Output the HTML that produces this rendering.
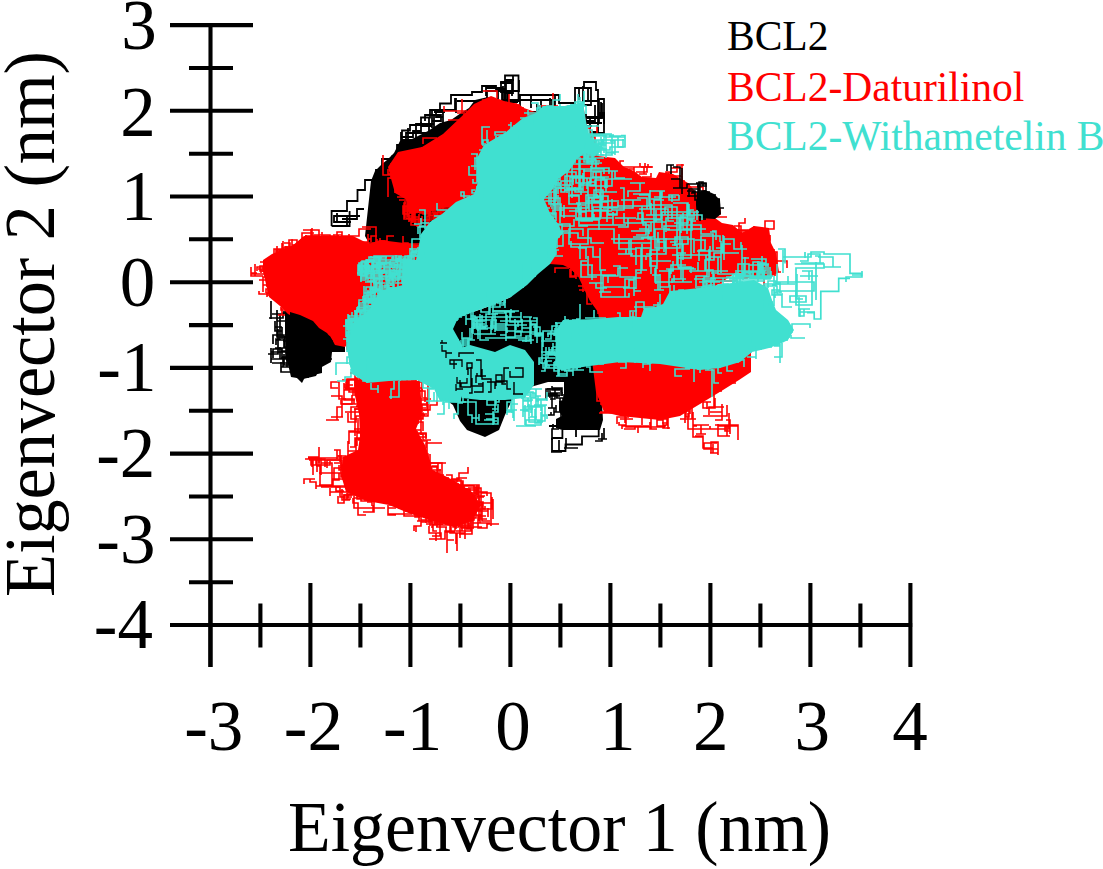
<!DOCTYPE html>
<html><head><meta charset="utf-8"><style>html,body{margin:0;padding:0;background:#fff;overflow:hidden}svg{display:block}</style></head>
<body><svg width="1103" height="869" viewBox="0 0 1103 869">
<path d="M541,115 L541,100 L535,100 L552,100 L552,114 L539,114 L556,114 M436,109 L436,117 L443,117 L443,124 L443,112 L434,112 L445,112 M513,92 L501,92 L501,82 L512,82 L512,96 L512,83 L500,83 M395,156 L400,156 L400,147 L408,147 L408,140 L408,128 M488,102 L498,102 L498,108 L498,95 L498,89 L505,89 L505,105 M486,96 L486,88 L502,88 L502,105 L502,90 L496,90 L502,90 M432,128 L432,121 L441,121 L441,115 L425,115 L425,121 L425,115 M592,132 L598,132 L598,125 L598,118 L591,118 L602,118 L602,103 M601,107 L601,118 L595,118 L587,118 L601,118 L601,102 L601,114 M397,153 L397,146 L397,157 L397,147 L397,158 L397,145 L410,145 M602,123 L591,123 L581,123 L595,123 L595,105 L595,121 L582,121 M497,108 L489,108 L503,108 L510,108 L500,108 L500,101 L484,101 M340,216 L334,216 L334,222 L351,222 L337,222 L337,213 L337,220 M513,84 L513,76 L513,93 L507,93 L507,108 L507,102 L518,102 M555,105 L555,95 L555,113 L547,113 L537,113 L554,113 L554,101 M583,86 L583,101 L591,101 L598,101 L582,101 L588,101 L588,89 M421,122 L421,131 L413,131 L413,137 L401,137 L401,149 L401,132 M491,91 L508,91 L508,106 L498,106 L498,112 L504,112 L516,112 M421,126 L432,126 L432,110 L449,110 L456,110 L456,98 L456,113 M477,101 L469,101 L457,101 L464,101 L480,101 L472,101 L488,101 M549,109 L537,109 L537,104 L537,112 L524,112 L513,112 L498,112 M604,115 L599,115 L599,103 L599,98 L599,112 L599,124 L599,111 M598,115 L598,106 L598,98 L598,113 L598,126 L598,111 L598,100 M401,150 L401,140 L416,140 L416,124 L434,124 L434,131 L434,114 M364,209 L357,209 L357,219 L342,219 L347,219 L347,225 L347,216 M579,91 L579,100 L579,88 L591,88 L591,97 L591,105 L580,105 M455,98 L455,110 L442,110 L433,110 L440,110 L434,110 L446,110 M519,111 L507,111 L522,111 L516,111 L507,111 L507,106 L515,106 M519,80 L519,91 L512,91 L498,91 L487,91 L487,101 L487,108 M429,118 L429,133 L412,133 L406,133 L406,149 L406,139 L406,150 M338,216 L351,216 L340,216 L357,216 L345,216 L360,216 L353,216 M599,113 L604,113 L604,124 L604,117 L586,117 L586,132 L586,114 M585,116 L585,126 L592,126 L575,126 L575,116 L569,116 L576,116 M514,80 L506,80 L506,86 L506,94 L506,89 L506,81 L512,81 M545,100 L528,100 L534,100 L519,100 L503,100 L503,86 L503,100" fill="none" stroke="#000" stroke-width="1.8"/>
<path d="M331.6,226 L331.6,211 L347,211 L347,201 L357.5,201 L357.5,190 L365,190 L365,180 L376,180 L376,170 L382,170 L382,159 L392.5,159 L392.5,156 L400.5,156 L400.5,144 L402,144 L402,130.5 L410,130.5 L410,125 L421,125 L421,117.5 L430,117.5 L430,110 L440,110 L440,103.5 L451,103.5 L451,95 L472,95 L472,92 L482,92 L482,86 L496,86 L496,90 L505,90 M331.6,226 L349.6,226 L349.6,211 M505,102 L505,75.5 L518.5,75.5 L518.5,102 M520,107 L520,95 L559,95 L559,103 L575,103 L575,88 L584,88 L584,82 L596,82 L596,90 L598,90 L598,99 L604,99 L604,133 L590,133 L590,118 L598,118 M531,96 L531,108 M550,98 L550,108" fill="none" stroke="#000" stroke-width="1.8"/>
<path d="M365,236 L371,181 L375,171 L382,164 L387,160 L394,153 L400,141 L412,139 L428,131 L440,123 L451,120 L461,113 L469,108 L475,100 L488,97 L500,105 L480,150 L465,200 L460,235 L420,245 L370,245Z" fill="#000"/>
<path d="M271,306 L271,311 L271,301 L271,309 L271,301 L271,308 L271,319 M300,372 L292,372 L287,372 L281,372 L281,362 L281,372 L281,368 M326,358 L326,349 L319,349 L319,341 L319,350 L319,339 L319,333 M324,345 L324,338 L313,338 L302,338 L302,348 L302,342 L302,336 M283,341 L293,341 L293,351 L281,351 L285,351 L290,351 L281,351 M277,321 L284,321 L288,321 L288,326 L292,326 L295,326 L301,326 M325,342 L331,342 L341,342 L337,342 L340,342 L340,339 L333,339 M284,354 L284,365 L291,365 L283,365 L283,358 L283,362 L283,367 M314,334 L323,334 L314,334 L314,337 L309,337 L309,328 L321,328 M285,336 L285,340 L276,340 L276,345 L276,339 L280,339 L280,332 M275,359 L271,359 L276,359 L272,359 L280,359 L280,352 L280,347 M324,335 L313,335 L313,329 L321,329 L321,338 L321,344 L321,340 M290,369 L300,369 L307,369 L307,362 L310,362 L316,362 L321,362 M296,358 L286,358 L286,347 L286,351 L295,351 L295,360 L286,360 M268,354 L278,354 L278,348 L278,344 L278,349 L278,340 L278,329 M285,340 L285,348 L293,348 L297,348 L285,348 L275,348 L285,348 M292,313 L292,317 L292,313 L283,313 L283,318 L276,318 L269,318 M314,372 L307,372 L314,372 L314,367 L314,358 L314,352 L314,361 M332,359 L325,359 L325,347 L331,347 L331,338 L334,338 L324,338 M315,374 L310,374 L303,374 L300,374 L300,367 L293,367 L281,367 M327,328 L327,335 L327,332 L327,337 L327,332 L324,332 L324,326 M303,323 L309,323 L309,326 L309,318 L298,318 L298,325 L291,325 M309,375 L314,375 L314,367 L322,367 L315,367 L305,367 L311,367 M285,337 L277,337 L289,337 L298,337 L298,326 L292,326 L298,326 M295,340 L295,347 L284,347 L284,335 L273,335 L273,339 L273,344 M277,310 L277,320 L277,313 L277,319 L277,329 L277,337 L283,337 M304,373 L298,373 L298,369 L302,369 L296,369 L296,366 L296,371 M289,352 L283,352 L272,352 L284,352 L278,352 L271,352 L271,356 M281,358 L287,358 L287,367 L298,367 L287,367 L287,360 L287,364 M308,369 L308,378 L308,373 L315,373 L315,366 L315,374 L315,362 M299,343 L310,343 L310,331 L306,331 L302,331 L302,338 L307,338 M332,338 L336,338 L339,338 L339,347 L335,347 L335,344 L340,344 M303,365 L294,365 L294,374 L294,363 L286,363 L277,363 L272,363 M282,327 L275,327 L275,321 L275,331 L282,331 L282,339 L282,327 M284,357 L287,357 L282,357 L282,349 L273,349 L273,358 L273,350 M284,311 L284,314 L272,314 L284,314 L280,314 L280,323 L280,334 M287,359 L280,359 L271,359 L271,348 L271,354 L271,363 L271,356 M296,351 L296,346 L287,346 L287,357 L287,361 L292,361 L292,365 M309,365 L309,375 L316,375 L311,375 L303,375 L303,366 L303,355 M318,340 L314,340 L314,351 L309,351 L309,359 L309,351 L300,351" fill="none" stroke="#000" stroke-width="1.7"/>
<path d="M285,310 L300,314 L315,320 L327,328 L332,338 L345,345 L345,352 L332,352 L331,362 L320,368 L316,376 L303,379 L291,377 L287,360 L285,335Z" fill="#000"/>
<path d="M446,330 L452,318 L476,311 L490,306 L511,297 L520,280 L540,265 L555,250 L580,260 L600,300 L620,320 L610,340 L600,370 L603,420 L600,430 L562,430 L556,428 L556,419 L562,416 L559,411 L559,401 L564,400 L564,382 L548,382 L520,390 L512,400 L505,415 L499,430 L485,437 L467,430 L460,421 L453,405 L446,400Z" fill="#000"/>
<path d="M562,452 L556,452 L561,452 L551,452 L559,452 L559,445 L559,440 M602,433 L602,441 L595,441 L601,441 L595,441 L601,441 L595,441 M553,424 L553,429 L559,429 L552,429 L552,436 L552,440 L552,434 M607,439 L600,439 L606,439 L598,439 L604,439 L604,434 L604,428 M566,438 L566,448 L572,448 L564,448 L570,448 L578,448 L566,448" fill="none" stroke="#000" stroke-width="1.7"/>
<path d="M552,438 L552,451 L565.5,451 L565.5,444.5 L582,444.5 L582,436.3 L598.7,436.3 L598.7,430 M552,438 L562.4,438 L562.4,430 M576,430 L576,437 M549,426 L556,426" fill="none" stroke="#000" stroke-width="1.8"/>
<path d="M554,399 L550,399 L555,399 L555,390 L560,390 L552,390 L552,386 M550,389 L558,389 L550,389 L550,398 L550,393 L554,393 L563,393 M546,400 L546,396 L556,396 L560,396 L551,396 L546,396 L550,396 M563,405 L563,398 L557,398 L557,394 L553,394 L556,394 L548,394 M560,408 L560,398 L556,398 L564,398 L564,394 L564,397 L564,401 M561,417 L561,412 L554,412 L560,412 L556,412 L556,405 L556,409 M551,412 L551,415 L548,415 L554,415 L554,410 L554,415 L554,408 M548,388 L548,396 L554,396 L546,396 L546,389 L546,397 L546,392 M563,395 L559,395 L563,395 L554,395 L550,395 L550,388 L550,395 M556,405 L556,408 L548,408 L552,408 L552,402 L552,393 L560,393 M546,394 L546,389 L553,389 L560,389 L556,389 L561,389 L561,392 M562,388 L562,396 L562,388 L552,388 L556,388 L560,388 L554,388" fill="none" stroke="#000" stroke-width="1.6"/>
<path d="M286,285 L286,294 L286,287 L293,287 L293,282 L289,282 L289,275 M332,271 L327,271 L318,271 L318,263 L322,263 L327,263 L336,263 M290,290 L290,282 L290,276 L290,266 L281,266 L284,266 L284,261 M395,275 L395,281 L395,274 L395,267 L395,275 L387,275 L395,275 M336,259 L342,259 L342,255 L348,255 L345,255 L345,247 L348,247 M342,235 L342,242 L342,249 L347,249 L351,249 L361,249 L361,244 M290,300 L290,305 L281,305 L281,299 L281,291 L288,291 L288,297 M358,255 L358,261 L358,268 L358,271 L358,261 L358,264 L355,264 M344,278 L344,285 L344,293 L351,293 L361,293 L361,297 L356,297 M305,291 L305,300 L313,300 L323,300 L318,300 L310,300 L310,305 M278,275 L282,275 L282,285 L276,285 L272,285 L263,285 L263,280 M368,234 L368,243 L377,243 L377,250 L377,245 L377,251 L377,246 M335,235 L341,235 L338,235 L338,242 L329,242 L329,246 L326,246 M276,261 L283,261 L283,258 L288,258 L288,268 L288,259 L293,259 M280,284 L284,284 L284,293 L275,293 L281,293 L281,290 L281,295 M343,283 L349,283 L358,283 L355,283 L358,283 L367,283 L374,283 M323,247 L328,247 L328,240 L328,245 L328,251 L321,251 L321,242 M335,235 L342,235 L342,232 L342,238 L342,232 L337,232 L337,240 M261,273 L261,269 L271,269 L271,279 L271,283 L281,283 L281,275 M360,287 L369,287 L375,287 L367,287 L374,287 L374,283 L379,283 M267,279 L267,286 L270,286 L266,286 L276,286 L283,286 L274,286 M286,249 L280,249 L274,249 L274,259 L274,267 L274,260 L274,269 M296,258 L296,254 L296,259 L296,251 L290,251 L290,243 L284,243 M334,279 L343,279 L343,271 L349,271 L340,271 L350,271 L350,276 M278,257 L271,257 L280,257 L280,261 L285,261 L285,257 L289,257 M255,276 L255,270 L255,264 L255,268 L255,272 L255,268 L255,272 M391,268 L391,276 L391,280 L383,280 L379,280 L379,276 L370,276 M347,296 L347,289 L341,289 L341,297 L345,297 L337,297 L337,291 M290,269 L287,269 L287,274 L287,283 L287,277 L292,277 L296,277 M339,299 L343,299 L336,299 L336,290 L329,290 L320,290 L313,290 M276,249 L276,255 L276,258 L276,249 L276,256 L276,265 L276,262 M279,294 L287,294 L281,294 L281,290 L278,290 L278,286 L278,296 M384,245 L391,245 L394,245 L387,245 L387,238 L387,243 L387,251 M302,312 L311,312 L311,304 L305,304 L314,304 L314,300 L306,300 M309,278 L316,278 L316,274 L316,269 L316,263 L316,257 L316,248 M358,268 L358,274 L358,281 L348,281 L343,281 L343,285 L343,278 M338,281 L342,281 L336,281 L333,281 L339,281 L339,287 L344,287 M286,270 L282,270 L287,270 L294,270 L294,275 L294,266 L294,272 M334,234 L334,241 L334,246 L342,246 L349,246 L353,246 L356,246 M325,279 L317,279 L317,283 L317,278 L317,269 L323,269 L323,265 M267,270 L267,277 L267,273 L267,264 L267,273 L267,282 L267,277 M367,279 L367,288 L367,278 L371,278 L380,278 L388,278 L393,278 M340,311 L344,311 L344,302 L349,302 L349,306 L344,306 L337,306 M395,253 L395,246 L395,255 L389,255 L392,255 L399,255 L399,259 M320,253 L327,253 L327,259 L327,251 L327,260 L327,251 L323,251 M346,265 L340,265 L349,265 L349,271 L356,271 L351,271 L356,271 M315,239 L310,239 L302,239 L302,233 L307,233 L311,233 L314,233 M273,281 L280,281 L284,281 L279,281 L279,278 L279,270 L279,274 M317,322 L317,318 L311,318 L311,313 L311,307 L305,307 L305,312 M319,320 L319,328 L322,328 L326,328 L326,323 L323,323 L323,314 M372,276 L372,281 L372,275 L372,280 L378,280 L369,280 L359,280 M312,306 L312,313 L312,316 L315,316 L324,316 L324,310 L324,304 M345,260 L353,260 L359,260 L359,266 L359,275 L359,270 L352,270 M323,254 L323,244 L323,247 L329,247 L329,255 L329,259 L335,259 M327,321 L327,317 L327,321 L327,311 L327,306 L327,310 L337,310 M298,270 L298,273 L298,268 L304,268 L296,268 L304,268 L311,268 M322,258 L326,258 L326,248 L322,248 L314,248 L314,240 L318,240 M276,250 L283,250 L276,250 L281,250 L277,250 L277,254 L277,264 M251,268 L251,274 L251,267 L251,273 L257,273 L253,273 L257,273 M268,271 L268,278 L268,282 L268,277 L263,277 L263,284 L263,292 M302,300 L302,305 L302,310 L309,310 L301,310 L296,310 L296,305 M368,249 L368,239 L371,239 L371,242 L371,236 L377,236 L374,236 M324,243 L324,235 L324,238 L324,245 L324,239 L331,239 L326,239 M281,275 L278,275 L278,282 L278,291 L272,291 L279,291 L279,286 M271,262 L267,262 L260,262 L266,262 L266,268 L266,259 L266,265 M354,239 L354,242 L359,242 L368,242 L368,250 L359,250 L351,250 M394,236 L387,236 L391,236 L387,236 L387,241 L380,241 L380,248 M303,308 L297,308 L297,299 L291,299 L287,299 L297,299 L306,299 M325,315 L325,319 L330,319 L324,319 L329,319 L329,325 L324,325 M302,236 L302,244 L297,244 L297,240 L292,240 L292,247 L284,247 M330,291 L330,284 L330,290 L334,290 L334,284 L329,284 L329,276 M398,266 L398,258 L398,267 L391,267 L396,267 L387,267 L387,260 M306,235 L306,244 L299,244 L299,251 L299,258 L299,249 L299,258 M313,287 L313,293 L313,300 L308,300 L301,300 L301,292 L301,299 M298,303 L291,303 L291,299 L291,292 L291,296 L298,296 L294,296 M350,243 L359,243 L359,249 L365,249 L365,254 L365,258 L371,258 M315,257 L310,257 L302,257 L292,257 L292,265 L296,265 L288,265 M284,277 L289,277 L285,277 L285,272 L279,272 L279,264 L279,254 M314,261 L314,268 L314,264 L318,264 L322,264 L315,264 L306,264 M359,268 L366,268 L366,272 L361,272 L367,272 L367,276 L367,284 M341,247 L337,247 L346,247 L342,247 L349,247 L349,239 L349,234 M292,301 L289,301 L289,308 L289,298 L289,305 L289,299 L294,299 M284,273 L290,273 L297,273 L292,273 L298,273 L298,278 L298,271 M290,307 L290,299 L283,299 L283,292 L287,292 L287,285 L292,285 M272,283 L272,293 L267,293 L267,297 L267,294 L259,294 L259,291 M322,232 L322,240 L322,249 L322,244 L322,253 L322,260 L328,260 M347,242 L342,242 L334,242 L327,242 L337,242 L337,249 L343,249 M304,281 L310,281 L310,288 L310,282 L310,289 L315,289 L315,281 M289,278 L289,282 L297,282 L297,272 L297,264 L297,271 L287,271 M257,271 L257,267 L265,267 L265,262 L265,268 L271,268 L271,262 M359,258 L355,258 L347,258 L354,258 L361,258 L361,252 L361,245 M334,292 L334,286 L325,286 L318,286 L328,286 L322,286 L326,286 M386,275 L382,275 L382,269 L382,262 L387,262 L394,262 L394,267 M292,240 L292,245 L297,245 L297,253 L290,253 L290,250 L290,259 M286,246 L286,255 L295,255 L295,259 L290,259 L281,259 L287,259 M288,284 L288,279 L288,288 L282,288 L277,288 L281,288 L281,280 M286,306 L289,306 L284,306 L288,306 L294,306 L300,306 L300,296 M367,268 L367,263 L358,263 L358,257 L358,265 L358,271 L358,264 M296,254 L304,254 L300,254 L300,259 L300,266 L291,266 L301,266 M258,269 L265,269 L265,264 L269,264 L277,264 L268,264 L268,268 M300,311 L308,311 L312,311 L307,311 L307,303 L307,311 L316,311 M355,296 L360,296 L360,292 L360,298 L360,290 L353,290 L353,299 M292,254 L285,254 L285,260 L285,255 L285,260 L285,268 L280,268 M359,290 L359,280 L359,271 L366,271 L373,271 L373,277 L381,277 M319,297 L319,304 L319,297 L319,289 L310,289 L310,293 L319,293 M367,271 L363,271 L363,279 L363,282 L353,282 L347,282 L352,282 M316,280 L325,280 L325,288 L318,288 L318,283 L318,278 L322,278 M277,278 L277,282 L277,289 L271,289 L274,289 L266,289 L266,293 M293,256 L293,263 L287,263 L287,260 L287,251 L297,251 L297,257 M311,235 L320,235 L330,235 L330,239 L330,248 L340,248 L340,258 M307,300 L307,307 L301,307 L306,307 L300,307 L296,307 L296,297 M364,284 L364,275 L356,275 L356,266 L356,258 L356,254 L356,246 M336,314 L336,306 L336,302 L336,309 L336,317 L328,317 L328,309 M282,303 L292,303 L299,303 L307,303 L307,294 L317,294 L317,299 M304,305 L299,305 L290,305 L290,297 L290,292 L286,292 L286,288 M335,280 L342,280 L342,271 L342,266 L342,271 L342,262 L342,252 M366,243 L375,243 L375,248 L368,248 L368,257 L378,257 L382,257 M344,296 L348,296 L341,296 L345,296 L345,293 L354,293 L348,293 M277,249 L277,253 L277,246 L277,252 L286,252 L279,252 L279,261 M346,247 L352,247 L343,247 L334,247 L334,255 L334,245 L334,249 M287,277 L293,277 L288,277 L288,281 L288,272 L288,269 L288,265 M285,273 L281,273 L281,270 L276,270 L276,276 L276,271 L285,271 M304,288 L314,288 L314,291 L309,291 L318,291 L318,284 L318,276 M308,256 L299,256 L299,260 L304,260 L304,267 L304,263 L304,267 M338,280 L344,280 L351,280 L351,288 L346,288 L346,282 L346,291 M372,245 L377,245 L377,239 L377,249 L377,240 L377,244 L377,253 M342,257 L342,252 L336,252 L336,248 L343,248 L343,244 L343,239 M361,289 L361,297 L353,297 L359,297 L359,290 L359,281 L359,273 M394,272 L399,272 L391,272 L399,272 L399,279 L399,276 L391,276 M287,275 L290,275 L295,275 L300,275 L300,280 L306,280 L311,280 M321,317 L315,317 L315,321 L315,318 L324,318 L319,318 L315,318 M368,284 L364,284 L364,293 L360,293 L354,293 L359,293 L365,293 M399,268 L399,273 L399,266 L391,266 L391,273 L391,268 L391,263 M305,242 L312,242 L307,242 L304,242 L313,242 L313,245 L308,245 M385,249 L385,241 L380,241 L380,248 L372,248 L372,254 L381,254 M269,288 L278,288 L284,288 L284,297 L284,301 L284,292 L293,292 M268,274 L260,274 L251,274 L251,269 L251,276 L257,276 L263,276 M326,258 L326,262 L326,265 L330,265 L323,265 L329,265 L329,259 M353,283 L353,278 L353,286 L353,293 L357,293 L350,293 L350,286 M347,295 L355,295 L355,289 L355,293 L355,301 L355,296 L358,296" fill="none" stroke="#ff0000" stroke-width="1.6"/>
<path d="M263,260 L272,254 L292,246 L304,236 L353,236 L369,244 L380,240 L420,245 L420,270 L400,290 L380,310 L360,330 L345,347 L335,345 L330,336 L314,330 L304,322 L288,314 L280,306 L269,297 L266,284 L263,272Z" fill="#ff0000"/>
<path d="M416,244 L420,244 L412,244 L408,244 L400,244 M268,291 L268,295 L268,290 L268,296 L268,290 M292,316 L292,310 L292,316 L300,316 L300,322 M348,236 L355,236 L349,236 L342,236 L342,242 M282,308 L282,315 L285,315 L278,315 L283,315 M362,328 L355,328 L359,328 L353,328 L348,328 M279,251 L288,251 L295,251 L286,251 L283,251 M265,280 L270,280 L264,280 L259,280 L266,280 M365,242 L365,245 L365,253 L365,258 L365,261 M385,241 L380,241 L380,238 L380,241 L380,244 M420,261 L415,261 L415,252 L409,252 L409,260 M376,314 L381,314 L381,319 L376,319 L380,319 M310,236 L319,236 L319,230 L310,230 L303,230 M347,344 L347,349 L350,349 L350,358 L354,358 M296,318 L300,318 L300,315 L308,315 L299,315 M400,290 L400,281 L400,273 L400,280 L395,280 M310,327 L310,333 L319,333 L319,340 L315,340 M365,325 L365,321 L365,318 L360,318 L354,318 M299,319 L299,325 L299,318 L296,318 L296,313 M334,236 L334,240 L330,240 L335,240 L328,240 M408,243 L408,248 L408,243 L403,243 L403,236 M413,277 L420,277 L426,277 L426,285 L418,285 M302,238 L311,238 L311,229 L311,238 L314,238 M263,272 L263,266 L260,266 L260,271 L266,271 M362,328 L367,328 L370,328 L374,328 L374,325 M300,240 L304,240 L304,249 L304,243 L304,237 M378,312 L372,312 L377,312 L377,303 L386,303 M420,257 L420,264 L412,264 L418,264 L418,267 M338,236 L338,242 L338,236 L338,244 L338,235 M325,236 L331,236 L335,236 L335,244 L339,244 M415,275 L410,275 L410,280 L410,273 L417,273 M290,247 L285,247 L289,247 L289,240 L293,240 M384,306 L384,313 L384,305 L384,314 L391,314 M399,291 L402,291 L402,282 L393,282 L385,282 M311,236 L305,236 L312,236 L312,228 L312,232 M281,307 L281,310 L290,310 L290,304 L290,298 M278,252 L283,252 L283,246 L283,241 L283,250 M330,236 L325,236 L334,236 L334,240 L334,243 M302,321 L302,313 L302,320 L309,320 L317,320 M351,236 L359,236 L359,229 L365,229 L371,229 M420,261 L420,269 L420,277 L412,277 L412,281 M385,305 L381,305 L374,305 L374,314 L366,314 M420,266 L425,266 L425,275 L425,268 L425,262 M405,285 L412,285 L412,291 L403,291 L400,291 M402,288 L399,288 L399,281 L391,281 L396,281 M409,281 L416,281 L416,277 L412,277 L408,277 M285,249 L285,253 L294,253 L287,253 L293,253 M302,321 L298,321 L293,321 L293,327 L298,327 M376,242 L376,236 L376,227 L368,227 L362,227 M281,250 L276,250 L281,250 L277,250 L277,258 M420,254 L416,254 L416,260 L416,252 L420,252 M303,321 L311,321 L311,328 L315,328 L307,328 M364,326 L367,326 L358,326 L358,333 L350,333 M416,274 L421,274 L413,274 L413,279 L408,279 M410,280 L403,280 L403,273 L411,273 L411,277 M351,236 L346,236 L346,242 L340,242 L335,242 M367,323 L367,317 L367,314 L371,314 L378,314 M404,243 L404,251 L397,251 L405,251 L408,251 M288,248 L282,248 L282,243 L282,250 L290,250 M312,236 L312,245 L309,245 L309,248 L309,253" fill="none" stroke="#ff0000" stroke-width="1.6"/>
<path d="M290,312 L300,315 L313,321 L319,328 L327,333 L333,341 L334,351 L327,355 L322,362 L322,373 L305,377 L302,383 L291,372 L289,355 L290,341Z" fill="#000"/>
<path d="M344,395 L344,387 L348,387 L348,379 L348,390 L353,390 L353,396 M331,396 L342,396 L342,407 L337,407 L337,416 L337,420 L332,420 M394,393 L394,396 L394,405 L394,416 L387,416 L387,423 L382,423 M312,459 L312,467 L312,457 L308,457 L319,457 L313,457 L309,457 M354,497 L354,500 L354,506 L354,494 L360,494 L348,494 L348,498 M364,379 L372,379 L372,390 L372,403 L379,403 L372,403 L368,403 M421,474 L415,474 L419,474 L419,485 L419,475 L411,475 L404,475 M397,416 L397,411 L397,400 L397,395 L403,395 L395,395 L388,395 M349,435 L349,444 L349,431 L357,431 L364,431 L358,431 L358,420 M429,521 L419,521 L419,508 L431,508 L431,521 L428,521 L417,521 M476,499 L476,490 L465,490 L453,490 L462,490 L462,494 L462,482 M404,382 L414,382 L422,382 L422,391 L419,391 L425,391 L425,402 M313,473 L313,468 L313,475 L313,463 L313,459 L325,459 L325,467 M398,437 L408,437 L417,437 L425,437 L418,437 L418,444 L405,444 M425,497 L425,505 L425,494 L425,506 L425,497 L425,490 L425,501 M370,494 L363,494 L353,494 L347,494 L347,499 L351,499 L345,499 M372,408 L381,408 L392,408 L397,408 L397,398 L408,398 L413,398 M432,528 L432,516 L420,516 L414,516 L404,516 L404,504 L404,496 M386,481 L386,486 L386,476 L386,483 L386,474 L378,474 L378,461 M421,432 L421,427 L421,415 L425,415 L421,415 L409,415 L402,415 M416,487 L416,490 L411,490 L416,490 L416,494 L416,498 L416,507 M426,408 L416,408 L404,408 L413,408 L423,408 L415,408 L410,408 M357,467 L357,462 L357,470 L357,482 L357,487 L364,487 L370,487 M319,485 L324,485 L332,485 L320,485 L320,472 L320,466 L316,466 M358,491 L358,482 L369,482 L363,482 L363,493 L363,484 L363,495 M361,395 L370,395 L370,382 L370,394 L360,394 L360,386 L357,386 M420,401 L420,405 L424,405 L415,405 L427,405 L422,405 L410,405 M451,521 L451,533 L451,530 L451,522 L462,522 L462,531 L462,525 M340,462 L340,450 L340,456 L340,450 L334,450 L337,450 L337,459 M436,491 L436,495 L427,495 L415,495 L415,505 L415,494 L415,497 M414,413 L419,413 L423,413 L423,419 L411,419 L421,419 L409,419 M450,511 L440,511 L440,514 L440,523 L440,536 L435,536 L432,536 M487,496 L487,492 L476,492 L476,499 L476,488 L481,488 L481,493 M345,479 L333,479 L333,486 L345,486 L332,486 L319,486 L316,486 M493,519 L493,514 L493,505 L493,512 L493,502 L493,499 L493,505 M405,409 L396,409 L406,409 L413,409 L402,409 L393,409 L388,409 M354,454 L354,462 L354,467 L354,479 L354,485 L354,498 L362,498 M336,460 L340,460 L327,460 L318,460 L309,460 L317,460 L317,472 M458,484 L452,484 L458,484 L458,489 L470,489 L470,501 L473,501 M385,391 L385,380 L391,380 L380,380 L370,380 L383,380 L395,380 M404,388 L404,398 L396,398 L406,398 L410,398 L398,398 L398,406 M417,480 L426,480 L431,480 L431,488 L431,477 L431,490 L423,490 M407,421 L407,416 L407,403 L416,403 L410,403 L410,391 L404,391 M361,430 L361,440 L361,431 L361,438 L355,438 L355,447 L350,447 M431,475 L419,475 L419,488 L419,481 L419,469 L419,463 L425,463 M380,446 L373,446 L382,446 L382,452 L382,464 L379,464 L379,468 M374,415 L374,427 L374,418 L381,418 L388,418 L377,418 L383,418 M321,458 L321,469 L321,463 L321,475 L321,463 L332,463 L332,475 M499,524 L487,524 L487,528 L478,528 L478,523 L478,516 L486,516 M491,526 L491,515 L491,503 L491,508 L491,515 L491,523 L491,512 M488,508 L488,517 L488,511 L476,511 L465,511 L465,498 L465,502 M366,433 L366,444 L360,444 L370,444 L377,444 L372,444 L380,444 M399,435 L399,444 L389,444 L389,454 L398,454 L398,458 L398,470 M453,504 L464,504 L464,494 L464,486 L469,486 L474,486 L474,498 M347,478 L347,485 L347,497 L352,497 L340,497 L340,487 L330,487 M423,410 L427,410 L427,400 L416,400 L412,400 L412,409 L412,417 M352,395 L352,404 L342,404 L342,417 L331,417 L343,417 L333,417 M392,471 L383,471 L383,480 L383,469 L383,462 L394,462 L394,456 M348,455 L348,445 L348,441 L348,451 L357,451 L362,451 L352,451 M395,383 L386,383 L378,383 L378,389 L368,389 L378,389 L389,389 M410,509 L418,509 L418,515 L422,515 L432,515 L432,508 L432,513 M386,447 L393,447 L389,447 L389,434 L379,434 L379,426 L379,437 M326,487 L322,487 L334,487 L321,487 L328,487 L332,487 L332,474 M363,473 L363,468 L375,468 L375,474 L375,468 L368,468 L368,477 M344,395 L344,383 L344,390 L357,390 L357,379 L347,379 L347,390 M477,497 L484,497 L478,497 L478,491 L478,495 L478,488 L478,492 M482,527 L473,527 L473,522 L473,510 L473,520 L473,527 L468,527 M316,465 L312,465 L316,465 L316,459 L312,459 L320,459 L310,459 M401,396 L401,386 L401,381 L401,388 L390,388 L390,396 L378,396 M386,489 L378,489 L378,494 L369,494 L369,499 L357,499 L357,487 M466,529 L472,529 L472,534 L463,534 L471,534 L459,534 L464,534 M361,425 L361,421 L369,421 L369,430 L369,434 L377,434 L377,424 M460,525 L460,529 L460,538 L460,527 L468,527 L468,519 L468,513 M421,464 L427,464 L427,459 L427,447 L427,441 L418,441 L418,437 M475,496 L485,496 L478,496 L483,496 L474,496 L464,496 L459,496 M464,531 L471,531 L471,519 L471,506 L467,506 L467,498 L467,488 M362,402 L362,410 L362,415 L362,412 L353,412 L345,412 L354,412 M367,494 L367,486 L377,486 L377,491 L364,491 L369,491 L364,491 M330,461 L330,465 L317,465 L311,465 L311,459 L317,459 L305,459 M378,401 L372,401 L377,401 L377,408 L377,413 L377,423 L377,432 M447,545 L447,553 L447,546 L447,536 L447,548 L447,540 L454,540 M448,522 L459,522 L456,522 L456,514 L456,526 L456,521 L456,529 M474,519 L474,515 L474,520 L464,520 L468,520 L468,510 L464,510 M383,494 L378,494 L378,501 L371,501 L361,501 L361,498 L361,489 M438,489 L438,481 L426,481 L426,487 L426,478 L430,478 L442,478 M366,515 L358,515 L358,503 L358,507 L358,503 L353,503 L353,498 M468,510 L475,510 L479,510 L479,521 L479,509 L479,504 L467,504 M437,515 L437,527 L437,519 L437,510 L437,499 L433,499 L433,494 M416,496 L416,499 L416,487 L416,495 L405,495 L405,487 L392,487 M460,531 L456,531 L465,531 L465,537 L465,528 L465,536 L465,523 M358,429 L363,429 L354,429 L364,429 L364,433 L357,433 L357,446 M396,458 L388,458 L388,467 L377,467 L366,467 L366,471 L363,471 M442,489 L434,489 L434,478 L422,478 L422,484 L432,484 L432,472 M465,514 L473,514 L473,525 L468,525 L455,525 L463,525 L469,525 M379,450 L386,450 L398,450 L387,450 L375,450 L375,442 L375,430 M391,457 L391,449 L385,449 L385,459 L385,454 L381,454 L381,467 M361,409 L361,418 L361,430 L361,439 L370,439 L380,439 L371,439 M385,508 L376,508 L369,508 L375,508 L366,508 L354,508 L354,504 M417,414 L427,414 L421,414 L421,423 L421,434 L426,434 L426,438 M441,539 L441,533 L436,533 L436,541 L436,533 L429,533 L429,526 M409,438 L401,438 L396,438 L390,438 L401,438 L412,438 L404,438 M360,463 L352,463 L352,472 L352,481 L359,481 L350,481 L350,487 M491,503 L482,503 L473,503 L482,503 L482,513 L482,521 L490,521 M365,451 L365,439 L355,439 L365,439 L356,439 L356,452 L356,449 M411,431 L411,427 L401,427 L390,427 L393,427 L399,427 L389,427 M344,385 L348,385 L353,385 L344,385 L344,388 L344,400 L355,400 M391,480 L402,480 L402,477 L402,485 L392,485 L392,490 L392,496 M405,444 L405,440 L405,449 L405,441 L405,432 L405,440 L405,447 M341,477 L341,469 L341,477 L352,477 L346,477 L346,481 L350,481 M377,484 L372,484 L366,484 L361,484 L369,484 L362,484 L362,493 M362,480 L362,472 L372,472 L361,472 L361,476 L361,470 L366,470 M398,451 L398,443 L401,443 L401,433 L401,442 L401,452 L411,452 M358,440 L361,440 L373,440 L373,449 L360,449 L360,454 L364,454 M398,454 L401,454 L405,454 L396,454 L396,448 L403,448 L408,448 M430,463 L439,463 L429,463 L442,463 L442,471 L442,477 L437,477 M406,491 L406,488 L396,488 L401,488 L411,488 L399,488 L393,488 M441,512 L450,512 L450,525 L442,525 L433,525 L433,531 L437,531 M319,473 L325,473 L334,473 L345,473 L345,464 L353,464 L353,454 M319,447 L319,451 L319,463 L319,458 L312,458 L308,458 L312,458 M410,455 L410,467 L401,467 L401,460 L401,453 L401,446 L404,446 M350,479 L358,479 L358,470 L358,459 L358,468 L358,456 L358,461 M349,462 L349,458 L359,458 L362,458 L353,458 L353,470 L342,470 M430,517 L430,509 L430,504 L430,507 L434,507 L434,510 L434,516 M473,521 L469,521 L473,521 L473,517 L473,512 L473,521 L462,521 M362,499 L374,499 L374,509 L374,512 L363,512 L373,512 L373,505 M428,384 L428,396 L428,404 L428,416 L417,416 L417,404 L409,404 M371,487 L371,495 L380,495 L376,495 L376,501 L370,501 L374,501 M448,512 L435,512 L435,524 L443,524 L433,524 L426,524 L431,524 M416,486 L428,486 L428,475 L420,475 L432,475 L428,475 L428,465 M477,495 L477,485 L469,485 L460,485 L460,492 L470,492 L466,492 M378,434 L378,437 L378,441 L385,441 L385,454 L372,454 L361,454 M415,421 L415,418 L423,418 L411,418 L415,418 L420,418 L409,418 M392,437 L400,437 L400,430 L400,421 L400,411 L408,411 L408,423 M393,432 L390,432 L385,432 L372,432 L372,440 L372,449 L362,449 M337,456 L341,456 L341,468 L334,468 L334,480 L339,480 L339,473 M450,522 L450,533 L457,533 L457,542 L457,551 L457,540 L457,536 M424,491 L420,491 L420,497 L420,510 L420,499 L420,494 L420,482 M480,522 L480,514 L480,523 L471,523 L481,523 L490,523 L482,523 M412,401 L402,401 L402,389 L412,389 L416,389 L416,380 L406,380 M357,477 L349,477 L356,477 L356,465 L356,473 L356,470 L347,470 M334,420 L330,420 L338,420 L326,420 L339,420 L334,420 L330,420 M406,451 L406,445 L412,445 L412,435 L412,430 L421,430 L421,435 M492,497 L492,509 L483,509 L483,502 L479,502 L479,490 L467,490 M412,496 L425,496 L430,496 L430,489 L442,489 L442,478 L430,478 M393,400 L383,400 L386,400 L398,400 L398,393 L398,381 L398,387 M355,427 L355,436 L355,431 L355,421 L355,409 L363,409 L370,409 M352,495 L344,495 L344,500 L350,500 L347,500 L342,500 L342,489 M447,527 L436,527 L446,527 L446,532 L455,532 L447,532 L447,542 M411,379 L419,379 L419,386 L419,398 L427,398 L419,398 L412,398 M446,475 L452,475 L452,481 L458,481 L463,481 L463,490 L454,490 M373,466 L373,479 L373,483 L368,483 L358,483 L358,487 L351,487 M410,387 L398,387 L398,391 L406,391 L400,391 L400,402 L396,402 M423,499 L423,508 L417,508 L404,508 L399,508 L399,498 L399,493 M316,489 L316,482 L310,482 L310,479 L315,479 L304,479 L304,484 M349,432 L358,432 L351,432 L363,432 L369,432 L369,437 L369,430 M470,515 L477,515 L482,515 L469,515 L469,521 L469,510 L481,510 M416,512 L429,512 L429,522 L441,522 L441,519 L430,519 L430,526 M354,459 L354,464 L359,464 L355,464 L355,469 L364,469 L364,475 M429,539 L437,539 L445,539 L445,531 L455,531 L455,519 L455,527 M420,459 L423,459 L423,455 L428,455 L423,455 L423,451 L427,451 M389,391 L398,391 L398,380 L402,380 L396,380 L407,380 L398,380 M456,544 L456,533 L464,533 L459,533 L465,533 L465,528 L465,539 M460,521 L457,521 L462,521 L450,521 L450,510 L460,510 L447,510 M338,388 L331,388 L331,382 L339,382 L339,392 L339,399 L346,399 M349,390 L349,380 L349,392 L360,392 L360,386 L360,378 L355,378 M455,523 L466,523 L473,523 L469,523 L469,528 L461,528 L474,528 M471,505 L481,505 L481,493 L491,493 L491,496 L491,507 L491,512 M475,485 L471,485 L479,485 L479,492 L479,487 L474,487 L479,487 M356,393 L356,389 L346,389 L346,380 L358,380 L353,380 L342,380 M450,487 L450,493 L438,493 L448,493 L461,493 L461,497 L461,493" fill="none" stroke="#ff0000" stroke-width="1.6"/>
<path d="M354,379 L420,381 L422,414 L416,429 L425,445 L433,470 L455,481 L472,492 L481,505 L472,521 L455,527 L433,521 L411,514 L389,505 L367,501 L346,492 L341,475 L343,457 L358,450 L360,436 L359,414 L355,396Z" fill="#ff0000"/>
<path d="M359,416 L356,416 L356,422 L348,422 L348,413 M357,404 L353,404 L346,404 L341,404 L341,400 M360,432 L366,432 L366,439 L366,431 L366,428 M395,380 L389,380 L389,375 L397,375 L400,375 M420,517 L415,517 L415,513 L420,513 L424,513 M475,496 L475,488 L475,491 L475,488 L468,488 M449,525 L449,521 L453,521 L453,514 L459,514 M419,381 L419,387 L413,387 L413,392 L417,392 M422,410 L430,410 L430,405 L437,405 L437,400 M481,505 L481,510 L481,515 L481,519 L487,519 M418,424 L418,416 L418,422 L423,422 L423,431 M479,509 L473,509 L480,509 L485,509 L485,506 M366,379 L371,379 L375,379 L375,376 L380,376 M397,380 L397,386 L401,386 L401,379 L401,384 M364,500 L371,500 L368,500 L376,500 L367,500 M474,495 L467,495 L458,495 L458,501 L458,507 M458,526 L466,526 L471,526 L466,526 L458,526 M353,495 L344,495 L344,503 L338,503 L338,496 M449,478 L442,478 L442,484 L437,484 L437,492 M383,380 L389,380 L389,387 L385,387 L385,381 M341,476 L346,476 L346,470 L339,470 L339,465 M421,517 L421,520 L421,526 L416,526 L416,532 M389,505 L395,505 L395,497 L386,497 L379,497 M406,512 L406,503 L406,495 L406,488 L406,491 M355,393 L361,393 L361,402 L361,409 L354,409 M451,479 L459,479 L459,473 L468,473 L468,467 M345,487 L336,487 L336,491 L344,491 L338,491 M454,480 L446,480 L446,485 L446,491 L446,496 M429,520 L433,520 L430,520 L423,520 L430,520 M388,505 L388,514 L397,514 L405,514 L412,514 M432,466 L438,466 L438,472 L438,463 L446,463 M396,380 L387,380 L394,380 L390,380 L384,380 M474,518 L469,518 L476,518 L476,510 L476,502 M361,498 L365,498 L370,498 L370,495 L370,492 M421,517 L421,522 L429,522 L424,522 L428,522 M480,506 L472,506 L479,506 L479,498 L471,498 M396,508 L388,508 L388,515 L396,515 L392,515 M421,405 L421,400 L414,400 L414,391 L421,391 M421,403 L416,403 L416,397 L410,397 L405,397 M433,470 L441,470 L438,470 L438,477 L444,477 M343,460 L347,460 L347,465 L341,465 L341,470 M422,412 L422,404 L427,404 L427,399 L431,399 M411,381 L414,381 L414,388 L422,388 L422,397 M403,380 L398,380 L392,380 L392,373 L385,373 M373,380 L373,373 L365,373 L365,381 L373,381 M426,448 L426,443 L434,443 L439,443 L442,443 M429,520 L421,520 L421,526 L414,526 L414,531 M343,458 L334,458 L325,458 L319,458 L319,465 M437,472 L437,467 L430,467 L437,467 L437,474 M454,480 L457,480 L453,480 L461,480 L461,488 M428,454 L428,458 L428,463 L428,454 L420,454 M430,462 L430,454 L430,463 L438,463 L431,463 M342,479 L350,479 L350,472 L354,472 L361,472 M440,523 L440,515 L433,515 L426,515 L426,523 M422,440 L418,440 L418,433 L426,433 L426,439 M407,381 L407,377 L407,371 L403,371 L394,371 M341,476 L349,476 L358,476 L358,480 L354,480 M365,500 L372,500 L372,506 L372,502 L367,502 M346,456 L338,456 L346,456 L343,456 L346,456 M417,431 L417,434 L423,434 L423,440 L431,440 M442,523 L437,523 L434,523 L438,523 L447,523 M359,419 L351,419 L351,413 L351,407 L359,407 M420,517 L417,517 L417,509 L423,509 L418,509 M357,406 L362,406 L356,406 L360,406 L360,414 M421,398 L421,405 L421,410 L415,410 L418,410 M355,391 L355,396 L355,389 L349,389 L345,389 M382,380 L382,373 L388,373 L394,373 L399,373 M473,493 L479,493 L476,493 L470,493 L470,490 M366,379 L366,388 L361,388 L353,388 L345,388 M342,463 L342,470 L342,466 L342,463 L334,463 M375,502 L375,498 L367,498 L361,498 L367,498 M355,392 L355,388 L355,380 L355,377 L355,372 M342,465 L342,460 L334,460 L327,460 L327,468 M357,404 L354,404 L354,399 L350,399 L343,399 M445,524 L453,524 L453,527 L459,527 L454,527 M354,385 L359,385 L359,392 L363,392 L363,396 M346,492 L337,492 L330,492 L330,496 L330,488 M444,475 L440,475 L440,469 L440,475 L433,475 M355,392 L355,385 L355,378 L355,373 L350,373 M457,482 L457,478 L464,478 L467,478 L464,478" fill="none" stroke="#ff0000" stroke-width="1.6"/>
<path d="M388,167 L398,152 L422,147 L443,134 L461,117 L474,104 L491,96 L504,101 L518,104 L524,108 L535,112 L545,106 L565,106 L583,104 L588,134 L594,142 L598,156 L615,158 L624,167 L634,171 L642,177 L656,178 L659,172 L673,174 L688,183 L693,189 L700,195 L715,218 L722,223 L733,225 L742,233 L754,226 L769,228 L771,243 L776,253 L779,272 L771,277 L752,277 L737,272 L722,282 L700,296 L665,310 L640,320 L620,322 L600,324 L598,312 L590,301 L585,291 L578,276 L571,269 L563,265 L550,264 L540,250 L480,240 L460,215 L453,205 L430,212 L409,214 L407,200 L395,193 L390,175Z" fill="#ff0000"/>
<path d="M598,314 L598,306 L598,300 L598,292 L593,292 M501,244 L501,249 L501,256 L509,256 L517,256 M546,106 L553,106 L553,101 L553,93 L553,99 M388,169 L388,174 L393,174 L399,174 L403,174 M558,106 L550,106 L541,106 L537,106 L541,106 M633,321 L636,321 L642,321 L642,318 L642,326 M463,115 L471,115 L475,115 L482,115 L482,109 M576,274 L576,279 L576,273 L576,268 L571,268 M517,104 L511,104 L507,104 L507,109 L500,109 M599,320 L595,320 L595,329 L586,329 L586,326 M592,304 L587,304 L587,297 L587,290 L579,290 M569,268 L565,268 L558,268 L555,268 L555,273 M740,231 L732,231 L732,235 L732,229 L736,229 M477,236 L477,245 L477,253 L477,248 L482,248 M391,179 L391,174 L391,168 L391,164 L395,164 M482,100 L491,100 L491,107 L497,107 L497,116 M779,272 L774,272 L781,272 L775,272 L775,276 M407,202 L407,197 L402,197 L397,197 L405,197 M585,290 L589,290 L593,290 L593,281 L593,277 M742,233 L734,233 L734,242 L739,242 L732,242 M628,169 L619,169 L614,169 L614,165 L614,174 M408,208 L408,202 L408,196 L408,200 L399,200 M458,120 L452,120 L461,120 L455,120 L448,120 M574,272 L574,264 L574,270 L571,270 L571,263 M498,243 L491,243 L491,250 L491,241 L495,241 M523,107 L523,116 L517,116 L509,116 L509,112 M649,177 L642,177 L647,177 L651,177 L651,173 M629,169 L634,169 L629,169 L629,176 L629,185 M754,277 L746,277 L746,269 L739,269 L747,269 M685,181 L676,181 L668,181 L668,173 L672,173 M459,213 L459,222 L459,216 L459,208 L459,213 M432,211 L432,206 L423,206 L423,214 L431,214 M639,174 L647,174 L644,174 L644,167 L653,167 M458,212 L465,212 L465,220 L460,220 L466,220 M447,131 L447,135 L447,142 L447,150 L447,157 M467,111 L460,111 L451,111 L444,111 L444,106 M639,320 L645,320 L645,311 L645,319 L640,319 M542,252 L542,256 L542,248 L542,252 L546,252 M522,247 L515,247 L522,247 L528,247 L521,247 M390,175 L383,175 L383,171 L383,163 L383,155 M481,240 L481,247 L472,247 L472,239 L479,239 M597,151 L597,155 L589,155 L589,147 L584,147 M583,287 L583,292 L583,283 L583,286 L578,286 M432,211 L432,205 L432,199 L432,207 L423,207 M465,113 L457,113 L462,113 L462,105 L462,99 M774,250 L770,250 L775,250 L771,250 L762,250 M520,105 L515,105 L512,105 L520,105 L512,105 M509,102 L509,94 L509,100 L509,107 L512,107 M770,235 L770,240 L764,240 L756,240 L765,240 M634,321 L634,326 L634,330 L634,338 L634,329 M395,193 L395,188 L400,188 L403,188 L403,191 M497,98 L497,91 L490,91 L483,91 L487,91 M777,261 L774,261 L780,261 L787,261 L787,268 M389,170 L393,170 L396,170 L402,170 L410,170 M570,269 L570,277 L575,277 L575,268 L582,268 M764,277 L764,274 L764,279 L764,286 L760,286 M587,129 L581,129 L577,129 L577,134 L577,137 M672,307 L672,300 L672,294 L672,301 L672,292 M595,146 L595,137 L590,137 L590,143 L585,143 M659,312 L654,312 L660,312 L660,317 L660,312 M655,314 L649,314 L649,310 L649,314 L649,306 M702,199 L702,193 L702,196 L702,202 L702,205 M544,256 L541,256 L541,251 L545,251 L545,256 M709,209 L705,209 L713,209 L720,209 L720,215 M765,228 L765,221 L774,221 L774,229 L768,229 M510,245 L510,252 L510,245 L510,253 L517,253 M590,136 L590,128 L586,128 L586,133 L586,139 M549,106 L555,106 L546,106 L546,114 L546,110 M724,281 L728,281 L737,281 L737,285 L729,285 M734,226 L741,226 L741,235 L738,235 L738,229 M471,229 L471,225 L471,217 L471,212 L478,212 M589,135 L597,135 L597,128 L597,132 L597,125 M688,183 L688,192 L688,197 L693,197 L697,197 M437,138 L428,138 L431,138 L423,138 L423,144 M748,230 L739,230 L739,223 L745,223 L745,218 M636,172 L642,172 L647,172 L647,167 L641,167 M746,231 L739,231 L747,231 L754,231 L754,226 M571,269 L571,276 L579,276 L584,276 L589,276 M418,148 L418,155 L422,155 L422,147 L422,156 M391,178 L388,178 L388,185 L388,190 L388,197" fill="none" stroke="#ff0000" stroke-width="1.6"/>
<path d="M718,263 L729,263 L720,263 L716,263 L716,252 L716,244 L713,244 M650,198 L650,194 L654,194 L654,190 L666,190 L671,190 L659,190 M642,182 L642,194 L637,194 L625,194 L625,188 L625,195 L620,195 M669,274 L677,274 L677,278 L677,288 L677,279 L670,279 L666,279 M739,278 L747,278 L747,272 L754,272 L745,272 L741,272 L730,272 M673,233 L673,229 L673,240 L680,240 L685,240 L685,251 L685,256 M747,247 L747,259 L738,259 L750,259 L750,256 L750,266 L750,257 M721,272 L721,283 L709,283 L700,283 L700,279 L700,273 L711,273 M663,222 L651,222 L651,210 L651,217 L651,224 L647,224 L638,224 M697,206 L704,206 L704,210 L704,219 L714,219 L714,227 L714,238 M658,297 L665,297 L665,291 L654,291 L654,279 L654,287 L649,287 M674,279 L674,288 L674,283 L674,277 L674,286 L679,286 L679,277 M644,266 L635,266 L647,266 L643,266 L639,266 L646,266 L646,272 M716,242 L707,242 L707,245 L707,233 L707,222 L707,234 L707,238 M705,206 L705,218 L698,218 L698,225 L690,225 L690,213 L682,213 M673,285 L679,285 L679,293 L673,293 L673,286 L666,286 L666,274 M677,294 L669,294 L669,291 L669,295 L673,295 L673,290 L683,290 M703,197 L703,187 L696,187 L687,187 L687,193 L687,185 L690,185 M635,198 L635,207 L642,207 L642,216 L639,216 L639,224 L650,224 M710,259 L710,248 L710,241 L699,241 L699,231 L705,231 L714,231 M686,199 L686,188 L682,188 L682,176 L675,176 L679,176 L674,176 M628,167 L634,167 L638,167 L643,167 L652,167 L640,167 L640,163 M716,217 L712,217 L709,217 L718,217 L724,217 L721,217 L727,217 M714,228 L714,239 L705,239 L697,239 L697,250 L692,250 L687,250 M739,231 L729,231 L729,238 L729,233 L738,233 L746,233 L750,233 M635,242 L628,242 L628,235 L628,239 L636,239 L636,236 L624,236 M686,271 L690,271 L690,261 L681,261 L681,255 L675,255 L675,265 M677,261 L677,270 L677,258 L677,266 L667,266 L667,262 L670,262 M648,164 L648,167 L639,167 L645,167 L645,163 L645,167 L635,167 M624,161 L620,161 L620,167 L617,167 L625,167 L634,167 L634,176 M645,209 L655,209 L655,205 L650,205 L639,205 L639,195 L639,198 M682,164 L682,175 L682,171 L682,168 L673,168 L676,168 L671,168 M699,215 L695,215 L695,225 L703,225 L695,225 L686,225 L686,217 M695,239 L695,231 L685,231 L685,240 L677,240 L671,240 L681,240 M658,215 L654,215 L661,215 L671,215 L666,215 L666,206 L675,206 M662,292 L654,292 L654,288 L664,288 L664,283 L664,275 L664,279 M642,195 L642,201 L650,201 L653,201 L665,201 L665,208 L665,220 M686,209 L686,215 L678,215 L668,215 L673,215 L664,215 L657,215 M771,271 L777,271 L777,260 L777,252 L770,252 L762,252 L762,244 M684,165 L677,165 L677,172 L672,172 L666,172 L666,182 L660,182" fill="none" stroke="#ff0000" stroke-width="1.6"/>
<path d="M685,403 L690,403 L690,393 L687,393 L687,387 L675,387 L675,390 M729,420 L729,413 L729,420 L729,429 L722,429 L710,429 L710,426 M597,375 L597,383 L597,376 L606,376 L606,387 L606,382 L613,382 M723,425 L727,425 L727,436 L723,436 L730,436 L718,436 L718,424 M665,427 L656,427 L645,427 L636,427 L626,427 L626,417 L626,424 M647,393 L652,393 L652,385 L652,374 L642,374 L642,382 L642,378 M672,406 L672,402 L672,410 L672,401 L672,397 L672,387 L679,387 M606,396 L602,396 L602,385 L602,381 L602,371 L602,382 L602,375 M620,385 L629,385 L629,382 L641,382 L641,371 L632,371 L635,371 M738,436 L738,440 L738,436 L738,425 L726,425 L722,425 L715,425 M730,434 L730,427 L725,427 L725,431 L730,431 L730,420 L726,420 M662,371 L668,371 L668,378 L659,378 L659,385 L659,393 L659,400 M695,396 L695,403 L695,392 L695,388 L695,398 L695,387 L683,387 M726,364 L726,373 L736,373 L736,379 L731,379 L731,383 L736,383 M711,453 L711,442 L718,442 L718,453 L710,453 L713,453 L713,447 M695,436 L703,436 L703,448 L713,448 L713,452 L713,444 L713,448 M669,405 L669,393 L663,393 L663,383 L663,395 L663,389 L670,389 M625,423 L625,411 L625,419 L633,419 L627,419 L624,419 L620,419 M672,378 L672,367 L672,378 L661,378 L653,378 L653,374 L658,374 M662,423 L668,423 L668,415 L668,418 L656,418 L656,409 L664,409 M714,372 L714,364 L714,370 L705,370 L709,370 L712,370 L712,364 M738,432 L738,438 L738,426 L735,426 L729,426 L724,426 L718,426 M680,419 L684,419 L687,419 L696,419 L692,419 L692,415 L692,405 M624,402 L632,402 L641,402 L641,395 L638,395 L638,388 L638,397 M618,386 L625,386 L619,386 L619,390 L627,390 L627,399 L627,409 M685,423 L685,412 L676,412 L684,412 L676,412 L672,412 L672,408 M600,412 L607,412 L607,401 L604,401 L597,401 L597,397 L597,389 M622,429 L622,425 L622,429 L622,426 L628,426 L639,426 L643,426 M663,425 L667,425 L667,419 L657,419 L657,411 L648,411 L639,411 M726,383 L726,374 L726,364 L714,364 L703,364 L699,364 L688,364 M666,426 L661,426 L657,426 L657,420 L663,420 L663,428 L670,428 M640,378 L651,378 L651,371 L655,371 L644,371 L654,371 L666,371 M636,408 L643,408 L653,408 L653,398 L653,387 L653,375 L653,366 M642,425 L642,421 L642,414 L642,407 L642,399 L650,399 L650,408 M722,391 L717,391 L709,391 L717,391 L721,391 L721,379 L721,383 M626,378 L626,381 L623,381 L614,381 L614,371 L621,371 L621,376 M697,426 L693,426 L693,416 L693,422 L693,412 L693,420 L693,427 M707,409 L707,402 L711,402 L703,402 L703,408 L715,408 L715,398 M621,408 L621,404 L611,404 L600,404 L607,404 L615,404 L615,411 M704,386 L699,386 L699,375 L690,375 L683,375 L678,375 L678,382 M706,434 L696,434 L706,434 L701,434 L701,425 L709,425 L699,425 M703,448 L703,437 L693,437 L693,432 L693,425 L700,425 L705,425 M613,368 L608,368 L608,378 L608,388 L608,398 L599,398 L609,398 M666,373 L670,373 L663,373 L663,366 L659,366 L659,376 L666,376 M710,412 L719,412 L722,412 L722,404 L722,414 L722,420 L715,420 M648,369 L648,378 L648,387 L659,387 L659,381 L659,374 L659,378 M727,405 L727,412 L727,416 L718,416 L715,416 L707,416 L703,416 M714,392 L714,396 L714,407 L724,407 L717,407 L709,407 L709,415 M668,429 L668,423 L668,412 L668,417 L668,406 L662,406 L662,415 M612,373 L623,373 L623,368 L613,368 L621,368 L621,377 L621,385 M708,374 L708,377 L708,372 L716,372 L716,364 L727,364 L727,372 M619,422 L619,425 L626,425 L626,417 L629,417 L617,417 L617,424 M688,419 L688,413 L688,421 L688,429 L699,429 L709,429 L713,429 M638,433 L638,426 L649,426 L644,426 L635,426 L635,429 L624,429 M718,455 L718,449 L711,449 L704,449 L704,443 L711,443 L717,443 M608,413 L612,413 L608,413 L599,413 L603,413 L610,413 L610,410 M680,407 L686,407 L686,417 L689,417 L689,411 L685,411 L685,407 M652,392 L652,403 L664,403 L664,407 L664,410 L669,410 L669,418 M690,414 L690,403 L690,394 L690,383 L701,383 L695,383 L689,383 M650,422 L650,429 L657,429 L651,429 L651,417 L656,417 L652,417" fill="none" stroke="#ff0000" stroke-width="1.6"/>
<path d="M592,360 L680,358 L751,352 L751,372 L739,380 L723,390 L700,404 L680,416 L660,420 L640,418 L620,416 L604,412 L596,392Z" fill="#ff0000"/>
<path d="M406,218 L415,218 L415,226 L415,219 L421,219 L421,226 L416,226 M440,206 L449,206 L454,206 L443,206 L454,206 L454,211 L454,203 M412,211 L404,211 L404,219 L409,219 L415,219 L419,219 L419,214 M429,217 L429,209 L435,209 L435,204 L427,204 L427,213 L438,213 M424,226 L431,226 L427,226 L427,216 L434,216 L440,216 L452,216 M435,206 L435,218 L439,218 L429,218 L435,218 L435,223 L426,223 M455,206 L455,210 L447,210 L440,210 L440,204 L440,212 L446,212 M456,211 L456,216 L450,216 L450,208 L450,204 L456,204 L456,212 M425,210 L430,210 L425,210 L413,210 L413,222 L422,222 L422,216 M428,224 L439,224 L434,224 L434,213 L430,213 L430,205 L436,205 M441,216 L449,216 L439,216 L450,216 L450,209 L450,216 L450,220 M448,218 L440,218 L440,214 L452,214 L452,208 L452,202 L456,202 M441,217 L441,209 L450,209 L440,209 L440,204 L440,212 L440,219 M432,225 L437,225 L437,220 L433,220 L442,220 L442,213 L442,220 M408,214 L408,203 L408,208 L408,215 L408,210 L414,210 L414,215 M412,220 L420,220 L409,220 L416,220 L424,220 L434,220 L430,220 M433,213 L433,207 L438,207 L448,207 L442,207 L447,207 L456,207 M407,212 L407,217 L407,205 L416,205 L424,205 L424,209 L432,209 M412,213 L412,221 L412,217 L419,217 L419,225 L411,225 L411,220 M457,213 L457,207 L447,207 L442,207 L448,207 L454,207 L447,207 M407,204 L407,208 L407,216 L415,216 L415,207 L415,219 L415,209 M445,212 L437,212 L437,224 L429,224 L429,215 L437,215 L437,221 M419,213 L431,213 L437,213 L429,213 L429,205 L436,205 L425,205 M405,201 L405,208 L405,213 L405,218 L405,209 L409,209 L409,200 M446,203 L453,203 L442,203 L447,203 L455,203 L446,203 L456,203 M408,206 L412,206 L412,211 L412,223 L412,216 L412,207 L404,207 M447,212 L443,212 L443,205 L438,205 L438,212 L438,216 L438,220 M432,220 L428,220 L439,220 L439,225 L429,225 L429,218 L429,209 M420,203 L410,203 L404,203 L404,212 L404,207 L411,207 L411,212 M420,206 L414,206 L403,206 L403,214 L409,214 L409,222 L409,217" fill="none" stroke="#ff0000" stroke-width="1.6"/>
<path d="M712,212 L712,204 L715,204 L715,194 L715,199 L720,199 L712,199 M687,196 L691,196 L700,196 L700,206 L700,215 L700,221 L700,216 M704,193 L698,193 L698,189 L698,184 L707,184 L699,184 L699,190 M682,194 L682,185 L682,178 L682,185 L682,179 L682,173 L682,168 M703,220 L703,212 L703,217 L703,207 L703,214 L703,204 L700,204 M707,186 L697,186 L703,186 L703,182 L699,182 L699,192 L692,192 M667,171 L667,165 L674,165 L667,165 L671,165 L671,174 L671,168 M689,197 L689,189 L698,189 L698,199 L698,205 L702,205 L702,210 M702,196 L710,196 L710,202 L720,202 L712,202 L712,211 L704,211 M691,193 L695,193 L695,200 L699,200 L695,200 L695,191 L687,191 M705,208 L698,208 L707,208 L707,204 L707,213 L707,210 L699,210 M702,211 L702,216 L705,216 L705,208 L713,208 L721,208 L724,208 M675,188 L683,188 L687,188 L687,184 L695,184 L692,184 L700,184 M704,207 L704,212 L700,212 L705,212 L705,220 L705,211 L713,211 M680,167 L673,167 L680,167 L680,172 L680,178 L680,183 L680,187 M673,188 L680,188 L680,179 L680,188 L680,179 L671,179 L679,179 M720,200 L714,200 L707,200 L697,200 L697,209 L706,209 L712,209 M701,183 L706,183 L706,187 L706,191 L700,191 L700,183 L696,183 M704,192 L710,192 L704,192 L704,201 L704,206 L704,212 L711,212 M713,197 L713,201 L718,201 L711,201 L707,201 L712,201 L712,209" fill="none" stroke="#000" stroke-width="1.6"/>
<path d="M697,192 L705,190 L714,194 L720,200 L721,214 L715,219 L700,218 L696,205Z" fill="#000"/>
<path d="M801,263 L806,263 L813,263 L824,263 L820,263 L820,256 L815,256 M810,328 L810,324 L806,324 L800,324 L792,324 L792,332 L787,332 M824,267 L832,267 L841,267 L833,267 L833,257 L823,257 L818,257 M799,297 L799,307 L799,316 L804,316 L804,311 L804,316 L804,309 M846,282 L846,277 L858,277 L862,277 L862,271 L862,275 L852,275 M783,273 L783,262 L783,257 L783,250 L783,261 L783,250 L783,260 M806,271 L811,271 L802,271 L810,271 L804,271 L809,271 L809,280 M800,261 L808,261 L808,254 L820,254 L820,263 L824,263 L816,263 M777,269 L777,264 L777,276 L777,284 L788,284 L788,276 L788,281 M780,282 L780,290 L772,290 L772,295 L782,295 L782,307 L792,307 M795,284 L788,284 L780,284 L780,293 L780,283 L774,283 L774,276 M797,274 L797,282 L797,294 L797,299 L803,299 L796,299 L796,290 M815,312 L807,312 L800,312 L800,317 L800,309 L810,309 L798,309 M774,306 L774,296 L774,287 L774,292 L782,292 L775,292 L775,298" fill="none" stroke="#40e0d0" stroke-width="1.6"/>
<path d="M778,249 L785,249 L785,263.6 M783,257 L811,257 L811,252 L824,252 L824,254 L850,254 L850,273.4 L861.6,273.4 L861.6,276 M850,278.3 L838.7,278.3 L838.7,291.4 L820.8,291.4 L820.8,319 L814.2,319 L814.2,312.6 L807,312.6 M794.6,264 L824,264 L824,268 L796,268 L796,305 L812,305 L812,270 M775,282 L814,282 L814,291 L778,291 M790,296 L806,296 L806,302 L790,302 Z M805,252 L805,258 M816,262 L816,300 M800,276 L818,276" fill="none" stroke="#40e0d0" stroke-width="1.7"/>
<path d="M649,234 L649,225 L643,225 L643,213 L638,213 L638,219 L649,219 M636,218 L625,218 L630,218 L615,218 L628,218 L628,227 L618,227 M692,225 L701,225 L701,234 L713,234 L713,247 L713,251 L722,251 M765,277 L772,277 L759,277 L759,264 L765,264 L769,264 L757,264 M588,226 L579,226 L579,221 L579,205 L586,205 L586,221 L593,221 M636,278 L641,278 L634,278 L634,282 L634,296 L634,291 L641,291 M630,243 L614,243 L614,229 L600,229 L588,229 L588,244 L575,244 M581,244 L569,244 L569,229 L578,229 L583,229 L583,236 L583,229 M734,239 L734,249 L740,249 L747,249 L734,249 L741,249 L741,242 M556,192 L551,192 L551,204 L561,204 L561,216 L565,216 L575,216 M671,261 L657,261 L657,269 L657,254 L657,239 L671,239 L682,239 M633,237 L638,237 L654,237 L654,224 L654,209 L654,200 L664,200 M663,197 L673,197 L658,197 L668,197 L676,197 L664,197 L654,197 M601,211 L601,217 L601,203 L586,203 L586,196 L586,203 L576,203 M738,277 L753,277 L762,277 L762,268 L762,256 L762,267 L762,279 M675,246 L675,237 L688,237 L688,244 L674,244 L683,244 L683,260 M608,202 L599,202 L594,202 L594,196 L594,190 L603,190 L603,200 M711,273 L718,273 L718,257 L718,267 L718,274 L726,274 L730,274 M624,213 L624,223 L631,223 L640,223 L646,223 L646,235 L636,235 M664,252 L664,237 L664,226 L677,226 L677,216 L677,230 L667,230 M617,207 L609,207 L593,207 L593,218 L584,218 L594,218 L594,214 M637,270 L647,270 L642,270 L642,261 L642,254 L642,244 L642,253 M733,285 L733,275 L739,275 L754,275 L742,275 L746,275 L739,275 M627,243 L637,243 L651,243 L651,256 L651,252 L651,238 L641,238 M595,182 L588,182 L588,197 L588,208 L581,208 L566,208 L551,208 M575,163 L575,158 L580,158 L580,173 L580,178 L580,188 L566,188 M720,242 L720,236 L715,236 L701,236 L701,251 L712,251 L697,251 M651,265 L651,274 L651,264 L651,257 L651,261 L665,261 L656,261 M628,206 L617,206 L627,206 L635,206 L649,206 L649,195 L639,195 M771,271 L771,278 L757,278 L757,272 L748,272 L743,272 L743,280 M556,191 L556,199 L556,188 L565,188 L565,176 L578,176 L583,176 M570,186 L570,177 L583,177 L583,173 L583,180 L583,191 L583,175 M692,271 L703,271 L712,271 L703,271 L689,271 L698,271 L698,262 M666,240 L666,250 L666,238 L666,250 L666,254 L655,254 L646,254 M617,210 L617,215 L608,215 L608,208 L603,208 L618,208 L618,202 M581,204 L569,204 L569,193 L569,185 L562,185 L572,185 L572,198 M689,204 L689,215 L677,215 L671,215 L661,215 L646,215 L658,215 M596,192 L611,192 L600,192 L600,202 L600,209 L600,219 L586,219 M731,244 L722,244 L722,253 L714,253 L714,260 L705,260 L705,271 M651,199 L660,199 L660,191 L665,191 L650,191 L662,191 L662,198 M578,204 L578,212 L586,212 L586,201 L586,210 L586,219 L577,219 M602,204 L602,208 L602,197 L589,197 L589,211 L575,211 L569,211 M720,282 L710,282 L699,282 L711,282 L711,277 L711,290 L706,290 M651,203 L651,215 L651,205 L663,205 L672,205 L672,219 L672,205 M692,229 L706,229 L699,229 L683,229 L683,217 L683,223 L683,213 M608,283 L608,275 L616,275 L603,275 L588,275 L588,271 L588,256 M587,183 L576,183 L576,172 L567,172 L567,181 L567,193 L567,179 M656,210 L656,222 L666,222 L657,222 L642,222 L642,206 L642,219 M750,281 L737,281 L728,281 L716,281 L722,281 L718,281 L704,281 M564,190 L579,190 L579,185 L579,189 L570,189 L583,189 L583,182 M670,229 L655,229 L655,237 L655,232 L655,248 L663,248 L658,248 M636,219 L648,219 L662,219 L662,212 L671,212 L685,212 L670,212 M580,244 L580,259 L580,248 L587,248 L578,248 L586,248 L586,259 M577,164 L571,164 L576,164 L582,164 L591,164 L599,164 L587,164 M721,273 L721,263 L721,252 L721,241 L721,257 L709,257 L716,257 M588,196 L588,191 L588,185 L588,198 L599,198 L592,198 L592,209 M626,225 L615,225 L599,225 L588,225 L600,225 L587,225 L580,225 M678,255 L678,260 L678,267 L687,267 L680,267 L691,267 L691,273 M717,285 L732,285 L739,285 L728,285 L737,285 L737,279 L729,279 M699,261 L699,250 L705,250 L705,240 L695,240 L706,240 L698,240 M575,187 L575,192 L588,192 L579,192 L579,181 L579,173 L579,160 M738,278 L738,264 L749,264 L749,274 L749,265 L757,265 L765,265 M687,215 L687,204 L687,219 L694,219 L694,212 L683,212 L699,212 M713,281 L713,270 L706,270 L706,259 L711,259 L706,259 L706,255 M601,195 L601,201 L601,186 L601,180 L596,180 L605,180 L605,188 M660,290 L660,275 L652,275 L658,275 L658,290 L664,290 L654,290 M599,292 L611,292 L603,292 L603,283 L596,283 L596,288 L607,288 M598,195 L586,195 L586,201 L596,201 L605,201 L615,201 L619,201 M680,231 L680,217 L686,217 L679,217 L679,230 L685,230 L669,230 M553,219 L553,215 L553,210 L564,210 L564,218 L564,205 L564,215 M739,253 L728,253 L723,253 L723,246 L723,235 L723,248 L716,248 M670,278 L670,271 L659,271 L670,271 L662,271 L673,271 L673,261 M711,279 L716,279 L705,279 L694,279 L702,279 L714,279 L714,274 M604,174 L604,169 L592,169 L598,169 L592,169 L592,159 L596,159 M639,229 L648,229 L648,239 L664,239 L656,239 L667,239 L658,239 M565,184 L565,192 L561,192 L561,181 L574,181 L564,181 L571,181 M625,178 L615,178 L615,171 L601,171 L591,171 L591,166 L591,174 M587,189 L587,178 L580,178 L580,183 L580,189 L567,189 L571,189 M619,208 L633,208 L633,200 L641,200 L631,200 L625,200 L621,200 M617,214 L607,214 L607,222 L607,210 L592,210 L592,220 L592,211 M634,280 L629,280 L629,288 L623,288 L636,288 L636,277 L636,289 M673,203 L688,203 L688,210 L688,215 L688,210 L688,205 L688,215 M609,174 L609,168 L601,168 L591,168 L591,183 L581,183 L581,195 M672,255 L687,255 L695,255 L710,255 L710,260 L710,246 L710,256 M620,188 L624,188 L624,203 L624,210 L612,210 L612,199 L612,203 M670,242 L677,242 L677,227 L677,211 L677,207 L665,207 L665,215 M628,297 L617,297 L610,297 L625,297 L625,293 L625,279 L636,279 M674,275 L674,282 L689,282 L677,282 L661,282 L655,282 L655,268 M613,212 L613,225 L613,218 L605,218 L590,218 L575,218 L589,218 M688,212 L688,207 L688,216 L688,209 L688,217 L688,223 L674,223 M642,256 L642,270 L636,270 L636,277 L620,277 L620,266 L613,266 M607,188 L607,179 L602,179 L616,179 L609,179 L618,179 L632,179 M560,216 L560,223 L560,210 L560,198 L549,198 L560,198 L560,213 M637,198 L647,198 L647,209 L653,209 L668,209 L668,221 L674,221 M592,280 L592,276 L592,265 L581,265 L581,272 L581,261 L587,261 M572,161 L572,165 L572,170 L572,166 L572,170 L572,184 L572,175 M730,274 L745,274 L745,265 L745,258 L749,258 L742,258 L742,245 M661,192 L661,204 L661,196 L661,201 L661,212 L661,220 L654,220 M716,232 L710,232 L716,232 L716,240 L716,236 L716,231 L712,231 M585,160 L596,160 L596,169 L586,169 L572,169 L584,169 L584,184 M697,287 L704,287 L704,277 L709,277 L709,268 L709,259 L709,249 M631,231 L641,231 L651,231 L651,222 L662,222 L662,228 L662,220 M604,243 L591,243 L591,238 L578,238 L578,233 L564,233 L574,233 M745,257 L745,267 L745,276 L759,276 L749,276 L744,276 L744,263 M729,278 L743,278 L729,278 L724,278 L739,278 L725,278 L734,278 M702,220 L702,215 L692,215 L692,230 L681,230 L681,221 L681,233 M593,265 L581,265 L581,261 L581,266 L581,277 L597,277 L584,277 M628,197 L628,191 L640,191 L640,183 L630,183 L638,183 L645,183 M742,252 L742,245 L742,254 L742,265 L742,273 L754,273 L750,273 M631,239 L631,248 L631,256 L642,256 L651,256 L646,256 L646,260 M733,281 L723,281 L723,287 L723,278 L711,278 L727,278 L743,278 M696,269 L686,269 L676,269 L666,269 L679,269 L683,269 L683,281 M581,206 L581,221 L586,221 L586,211 L599,211 L607,211 L612,211 M600,249 L600,257 L593,257 L593,247 L582,247 L571,247 L571,241 M752,271 L746,271 L737,271 L746,271 L753,271 L766,271 L766,265 M570,195 L579,195 L579,200 L579,210 L579,202 L579,196 L568,196 M660,286 L660,274 L660,287 L669,287 L669,278 L669,270 L674,270 M666,232 L666,218 L679,218 L687,218 L687,203 L687,212 L691,212 M629,240 L629,254 L618,254 L626,254 L626,249 L626,254 L633,254 M681,271 L681,259 L681,268 L681,279 L686,279 L672,279 L672,283 M579,173 L579,185 L595,185 L595,180 L606,180 L606,192 L617,192 M671,274 L671,265 L677,265 L686,265 L677,265 L677,253 L686,253 M751,259 L766,259 L766,271 L766,263 L761,263 L761,273 L767,273 M608,211 L608,196 L596,196 L596,186 L596,176 L596,171 L583,171 M734,248 L734,239 L724,239 L724,247 L724,236 L724,251 L724,260 M687,234 L687,219 L687,210 L694,210 L690,210 L690,221 L690,213 M721,271 L728,271 L721,271 L707,271 L707,276 L696,276 L696,288 M629,293 L629,297 L622,297 L629,297 L615,297 L601,297 L601,282 M628,268 L618,268 L618,276 L603,276 L603,287 L618,287 L629,287 M758,261 L758,276 L773,276 L768,276 L768,265 L763,265 L763,276 M758,282 L758,276 L758,272 L764,272 L764,279 L752,279 L736,279 M681,253 L681,268 L694,268 L678,268 L683,268 L683,282 L692,282 M579,178 L583,178 L598,178 L582,178 L573,178 L573,185 L573,181 M680,229 L680,239 L680,248 L665,248 L665,242 L658,242 L658,232 M600,248 L600,259 L600,270 L606,270 L601,270 L601,283 L589,283 M601,183 L601,172 L593,172 L593,177 L609,177 L601,177 L592,177 M611,239 L621,239 L626,239 L635,239 L644,239 L638,239 L632,239 M618,171 L612,171 L612,186 L605,186 L590,186 L590,178 L605,178 M619,237 L619,247 L619,234 L619,249 L631,249 L636,249 L636,265 M656,284 L656,276 L656,266 L650,266 L650,250 L659,250 L659,239 M637,273 L641,273 L641,259 L641,248 L651,248 L643,248 L635,248 M555,189 L555,201 L555,212 L555,218 L555,209 L555,202 L555,195 M760,278 L750,278 L750,272 L750,279 L762,279 L770,279 L770,267 M697,210 L697,220 L697,215 L681,215 L681,225 L686,225 L693,225 M736,270 L736,276 L745,276 L760,276 L760,262 L753,262 L753,277 M694,253 L694,239 L682,239 L682,253 L677,253 L677,245 L672,245 M696,221 L691,221 L691,235 L691,242 L691,258 L678,258 L687,258 M639,209 L650,209 L650,197 L650,190 L650,194 L640,194 L633,194 M580,215 L580,208 L576,208 L576,220 L584,220 L599,220 L599,230 M679,195 L679,200 L669,200 L669,195 L679,195 L672,195 L672,202" fill="none" stroke="#40e0d0" stroke-width="1.6"/>
<path d="M443,293 L443,297 L455,297 L455,292 L455,283 L447,283 L435,283 M385,270 L381,270 L381,279 L384,279 L394,279 L390,279 L390,267 M376,338 L376,330 L376,323 L376,315 L388,315 L388,321 L388,332 M420,269 L417,269 L417,266 L422,266 L422,263 L412,263 L422,263 M449,277 L457,277 L457,282 L457,289 L457,284 L450,284 L450,289 M508,168 L520,168 L520,173 L528,173 L519,173 L519,185 L516,185 M410,330 L410,339 L400,339 L400,332 L400,337 L400,326 L393,326 M411,351 L411,342 L401,342 L401,345 L410,345 L402,345 L402,352 M431,273 L431,263 L431,275 L431,267 L440,267 L429,267 L440,267 M540,258 L540,248 L540,253 L540,264 L540,255 L545,255 L545,247 M490,311 L490,305 L495,305 L495,298 L504,298 L504,305 L501,305 M387,367 L387,371 L387,365 L380,365 L390,365 L383,365 L383,357 M362,268 L362,274 L368,274 L368,263 L368,268 L368,263 L363,263 M348,334 L348,341 L348,348 L348,352 L348,345 L348,351 L348,344 M379,330 L379,334 L379,342 L390,342 L390,354 L390,364 L390,374 M385,356 L393,356 L396,356 L391,356 L382,356 L382,367 L372,367 M540,210 L540,202 L540,198 L549,198 L549,190 L549,197 L549,186 M536,114 L536,117 L536,126 L536,118 L536,128 L530,128 L526,128 M363,301 L371,301 L371,292 L371,282 L371,273 L371,283 L371,279 M545,209 L545,213 L545,205 L545,208 L541,208 L541,198 L541,188 M477,258 L477,262 L477,268 L466,268 L466,258 L466,264 L470,264 M468,246 L468,254 L468,260 L468,266 L468,277 L468,273 L468,262 M457,343 L468,343 L458,343 L467,343 L457,343 L451,343 L446,343 M503,194 L492,194 L492,187 L492,181 L487,181 L487,173 L487,179 M425,381 L425,377 L425,369 L420,369 L420,359 L417,359 L425,359 M511,263 L511,257 L522,257 L511,257 L511,246 L511,257 L511,267 M525,137 L520,137 L520,133 L508,133 L515,133 L527,133 L527,127 M542,254 L542,246 L542,253 L539,253 L547,253 L541,253 L541,263 M504,255 L515,255 L515,264 L515,268 L525,268 L537,268 L533,268 M371,329 L366,329 L366,341 L356,341 L365,341 L365,348 L365,339 M505,187 L505,182 L516,182 L516,188 L525,188 L525,195 L525,198 M405,354 L411,354 L411,358 L422,358 L411,358 L400,358 L412,358 M434,339 L434,351 L441,351 L441,357 L450,357 L450,366 L450,355 M448,335 L440,335 L440,327 L440,318 L429,318 L421,318 L413,318 M543,234 L550,234 L550,223 L538,223 L529,223 L525,223 L515,223 M477,294 L482,294 L482,284 L478,284 L489,284 L489,276 L485,276 M555,247 L544,247 L536,247 L536,252 L536,248 L536,259 L543,259 M347,342 L347,332 L350,332 L346,332 L354,332 L354,336 L365,336 M507,211 L507,220 L518,220 L511,220 L522,220 L522,210 L522,204 M449,259 L449,248 L449,239 L460,239 L452,239 L443,239 L443,233 M404,313 L407,313 L401,313 L401,305 L390,305 L397,305 L406,305 M368,370 L378,370 L372,370 L384,370 L381,370 L381,378 L387,378 M364,346 L364,357 L360,357 L351,357 L351,364 L362,364 L369,364 M349,315 L349,324 L349,328 L349,319 L355,319 L358,319 L370,319 M351,360 L351,350 L351,359 L351,352 L351,344 L351,337 L351,327 M411,311 L401,311 L401,319 L406,319 L396,319 L401,319 L401,308 M485,153 L485,164 L485,158 L474,158 L485,158 L475,158 L475,170 M413,372 L413,363 L417,363 L425,363 L429,363 L421,363 L424,363 M525,229 L525,220 L534,220 L534,217 L534,221 L534,217 L534,223 M373,312 L373,301 L363,301 L371,301 L381,301 L374,301 L374,295 M450,276 L450,268 L450,264 L446,264 L446,257 L446,263 L441,263 M449,281 L445,281 L445,270 L445,276 L442,276 L442,266 L442,263 M415,286 L420,286 L420,281 L420,275 L432,275 L443,275 L443,281 M526,219 L526,208 L526,212 L526,219 L526,209 L522,209 L518,209 M529,225 L529,236 L538,236 L543,236 L543,228 L534,228 L534,240 M383,376 L383,371 L372,371 L367,371 L367,366 L362,366 L354,366 M389,278 L389,281 L396,281 L390,281 L396,281 L386,281 L386,271 M428,244 L428,250 L428,241 L428,250 L435,250 L427,250 L427,257 M414,252 L414,262 L402,262 L402,272 L402,267 L402,276 L402,284 M449,316 L438,316 L438,309 L438,303 L430,303 L430,311 L423,311 M442,353 L442,348 L431,348 L431,342 L431,332 L431,340 L443,340 M505,303 L505,297 L501,297 L501,301 L490,301 L493,301 L493,290 M432,268 L438,268 L438,271 L450,271 L450,264 L458,264 L458,256 M500,215 L508,215 L508,225 L508,217 L508,205 L497,205 L497,213 M477,291 L469,291 L475,291 L471,291 L471,296 L471,300 L471,303 M487,274 L487,285 L497,285 L492,285 L492,276 L500,276 L500,270 M360,340 L360,350 L366,350 L358,350 L358,358 L358,354 L358,363 M442,296 L446,296 L446,286 L458,286 L458,295 L452,295 L463,295 M505,241 L498,241 L498,248 L498,238 L491,238 L480,238 L485,238 M418,302 L424,302 L424,297 L429,297 L429,302 L434,302 L434,306 M505,252 L505,261 L497,261 L497,266 L491,266 L491,257 L494,257 M529,139 L529,127 L529,122 L529,133 L529,144 L529,149 L540,149 M386,256 L386,262 L386,259 L378,259 L385,259 L378,259 L378,269 M368,268 L368,263 L359,263 L359,269 L363,269 L371,269 L371,278 M463,206 L471,206 L461,206 L461,215 L461,221 L461,232 L456,232 M374,342 L374,346 L374,336 L362,336 L354,336 L354,329 L347,329 M544,120 L544,125 L544,115 L544,111 L544,119 L544,128 L550,128 M466,325 L466,315 L466,319 L474,319 L474,327 L474,322 L474,326 M390,342 L390,338 L379,338 L388,338 L388,346 L399,346 L387,346 M509,153 L512,153 L507,153 L498,153 L505,153 L505,145 L505,136 M379,370 L379,376 L388,376 L382,376 L372,376 L377,376 L377,366 M372,378 L378,378 L386,378 L392,378 L392,374 L392,362 L403,362 M403,280 L403,290 L400,290 L410,290 L420,290 L420,280 L417,280 M497,167 L497,158 L497,166 L497,177 L502,177 L510,177 L510,173 M508,251 L508,256 L508,267 L508,263 L508,268 L508,259 L508,267 M492,241 L492,238 L501,238 L491,238 L487,238 L496,238 L508,238 M534,135 L534,140 L529,140 L536,140 L536,135 L536,124 L536,127 M372,274 L372,278 L361,278 L361,267 L361,277 L361,272 L361,282 M349,333 L349,345 L349,352 L356,352 L356,347 L349,347 L349,354 M458,306 L467,306 L476,306 L476,302 L473,302 L473,307 L476,307 M515,244 L515,250 L515,255 L515,246 L515,250 L515,246 L523,246 M465,235 L465,240 L460,240 L460,232 L465,232 L458,232 L458,222 M547,137 L541,137 L536,137 L531,137 L521,137 L531,137 L531,132 M381,265 L381,268 L376,268 L376,271 L386,271 L386,277 L395,277 M352,318 L352,325 L352,333 L355,333 L355,324 L355,318 L362,318 M517,271 L517,264 L523,264 L515,264 L515,268 L512,268 L516,268 M370,266 L361,266 L361,276 L371,276 L362,276 L362,272 L370,272 M391,286 L391,283 L402,283 L395,283 L388,283 L380,283 L373,283 M426,262 L426,255 L426,248 L417,248 L426,248 L426,252 L426,257 M516,249 L522,249 L514,249 L514,239 L514,251 L514,245 L525,245 M466,257 L466,263 L472,263 L472,259 L461,259 L461,249 L449,249 M453,250 L457,250 L447,250 L447,246 L447,235 L440,235 L444,235 M532,241 L532,235 L520,235 L510,235 L510,245 L518,245 L518,241 M511,135 L521,135 L510,135 L510,147 L514,147 L514,156 L521,156 M556,135 L556,126 L556,137 L556,129 L556,141 L549,141 L545,141 M491,294 L491,289 L503,289 L503,285 L512,285 L507,285 L507,293 M389,312 L389,305 L389,299 L389,288 L393,288 L402,288 L409,288 M525,185 L535,185 L532,185 L541,185 L541,189 L541,200 L541,212 M352,364 L361,364 L350,364 L350,361 L350,353 L350,349 L350,341 M530,245 L535,245 L539,245 L539,253 L544,253 L551,253 L551,245 M384,273 L374,273 L374,283 L374,288 L370,288 L370,295 L366,295 M446,358 L446,349 L454,349 L454,358 L454,355 L454,362 L454,367 M511,273 L505,273 L499,273 L499,284 L499,278 L505,278 L505,272 M403,299 L411,299 L407,299 L407,310 L411,310 L411,321 L411,318 M515,207 L505,207 L510,207 L510,213 L510,218 L510,207 L510,218 M401,288 L401,298 L411,298 L411,306 L411,300 L411,304 L421,304 M407,280 L403,280 L409,280 L409,283 L409,291 L409,297 L409,303 M509,271 L512,271 L512,278 L512,273 L506,273 L506,282 L497,282 M529,277 L524,277 L519,277 L519,270 L515,270 L505,270 L505,274 M397,376 L397,370 L409,370 L403,370 L403,375 L392,375 L385,375 M466,351 L460,351 L460,356 L460,345 L468,345 L468,342 L468,338 M528,139 L528,144 L536,144 L546,144 L546,148 L546,145 L546,138 M496,136 L496,146 L496,142 L502,142 L502,150 L511,150 L506,150 M407,276 L407,267 L414,267 L410,267 L414,267 L414,257 L405,257 M368,335 L358,335 L346,335 L346,324 L346,331 L346,320 L346,331 M551,132 L545,132 L539,132 L544,132 L544,123 L544,131 L544,141 M449,317 L444,317 L444,326 L444,320 L444,310 L437,310 L431,310 M487,206 L483,206 L483,215 L472,215 L472,225 L477,225 L465,225 M510,150 L505,150 L505,144 L505,148 L499,148 L504,148 L504,142 M412,280 L416,280 L420,280 L420,284 L420,280 L420,270 L414,270 M465,308 L472,308 L472,297 L472,286 L472,280 L468,280 L463,280 M446,337 L446,330 L436,330 L436,322 L424,322 L424,334 L424,345 M536,114 L536,122 L536,114 L539,114 L539,120 L539,115 L543,115 M478,246 L478,243 L478,233 L468,233 L468,242 L468,251 L468,245 M419,255 L419,261 L430,261 L430,252 L439,252 L443,252 L432,252 M527,264 L516,264 L504,264 L497,264 L497,260 L497,269 L491,269 M494,273 L494,280 L494,274 L499,274 L499,266 L508,266 L508,277 M517,152 L523,152 L523,147 L514,147 L518,147 L518,154 L513,154 M375,272 L369,272 L369,267 L379,267 L379,276 L388,276 L395,276 M454,241 L454,248 L454,258 L454,267 L454,263 L454,259 L443,259 M525,215 L525,221 L530,221 L519,221 L519,231 L519,241 L519,238 M475,321 L485,321 L478,321 L478,331 L478,324 L478,320 L478,328 M444,285 L452,285 L452,274 L452,280 L455,280 L465,280 L465,269 M502,242 L502,234 L502,246 L502,253 L498,253 L487,253 L487,242 M430,383 L430,376 L439,376 L439,382 L439,378 L448,378 L448,375 M512,218 L503,218 L506,218 L510,218 L504,218 L504,221 L504,228 M482,230 L492,230 L492,241 L492,238 L489,238 L489,250 L489,240 M386,316 L398,316 L408,316 L401,316 L408,316 L408,323 L416,323 M396,323 L385,323 L380,323 L380,316 L384,316 L394,316 L400,316 M538,226 L528,226 L528,222 L528,230 L538,230 L538,242 L550,242 M504,156 L493,156 L493,145 L496,145 L496,151 L503,151 L513,151 M348,326 L348,320 L348,314 L348,326 L343,326 L346,326 L346,337 M500,307 L500,296 L500,307 L489,307 L489,315 L489,306 L489,303 M511,283 L516,283 L521,283 L521,279 L521,283 L524,283 L518,283 M481,220 L469,220 L469,228 L469,216 L481,216 L489,216 L489,212 M521,221 L521,215 L521,220 L521,217 L527,217 L520,217 L520,225 M383,346 L390,346 L390,339 L395,339 L388,339 L384,339 L376,339 M479,271 L469,271 L462,271 L462,276 L462,283 L462,271 L462,267 M540,231 L536,231 L536,222 L536,228 L532,228 L532,236 L525,236 M527,170 L519,170 L510,170 L510,176 L507,176 L502,176 L502,180 M553,219 L553,230 L553,237 L550,237 L560,237 L551,237 L551,246 M554,198 L554,186 L554,194 L554,200 L554,206 L559,206 L550,206 M445,375 L445,368 L440,368 L444,368 L433,368 L425,368 L421,368 M486,247 L481,247 L481,257 L481,266 L481,261 L481,257 L481,263 M455,211 L460,211 L469,211 L469,221 L459,221 L453,221 L445,221 M458,292 L448,292 L438,292 L438,296 L438,286 L438,281 L445,281 M447,261 L447,271 L447,283 L443,283 L443,294 L447,294 L447,290 M527,148 L524,148 L529,148 L529,145 L529,136 L529,125 L534,125 M522,126 L522,131 L511,131 L518,131 L527,131 L539,131 L528,131 M395,332 L395,326 L395,334 L395,338 L395,347 L395,343 L395,346 M378,264 L378,267 L378,257 L378,266 L372,266 L372,271 L363,271 M392,290 L392,295 L392,307 L392,304 L387,304 L380,304 L387,304 M526,242 L531,242 L520,242 L520,251 L510,251 L510,247 L504,247 M412,332 L421,332 L431,332 L428,332 L439,332 L439,338 L439,327 M512,209 L505,209 L505,202 L505,206 L505,212 L505,215 L505,225 M535,209 L535,198 L540,198 L549,198 L549,204 L558,204 L558,195 M521,207 L521,215 L530,215 L530,208 L530,218 L530,214 L525,214 M390,316 L387,316 L382,316 L371,316 L371,320 L382,320 L382,324 M402,267 L395,267 L395,260 L406,260 L406,271 L400,271 L394,271 M521,177 L532,177 L532,171 L528,171 L532,171 L521,171 L512,171 M384,304 L389,304 L389,293 L377,293 L385,293 L380,293 L380,289 M363,321 L363,331 L352,331 L348,331 L351,331 L351,321 L351,327 M497,218 L497,206 L497,196 L497,190 L501,190 L506,190 L496,190 M494,301 L489,301 L489,295 L481,295 L481,304 L481,312 L491,312 M537,244 L528,244 L528,238 L528,246 L534,246 L527,246 L532,246 M395,306 L395,312 L395,301 L395,298 L395,301 L383,301 L383,306 M543,162 L538,162 L547,162 L547,154 L552,154 L552,161 L543,161 M436,362 L436,353 L447,353 L457,353 L448,353 L448,347 L448,341 M484,150 L479,150 L489,150 L500,150 L490,150 L482,150 L482,161 M486,178 L486,168 L480,168 L480,165 L480,155 L488,155 L488,160 M454,285 L454,295 L454,284 L450,284 L450,274 L450,266 L450,262 M454,209 L454,217 L459,217 L471,217 L477,217 L477,221 L470,221 M536,254 L536,242 L524,242 L524,252 L524,247 L524,244 L524,237 M440,310 L440,316 L440,312 L445,312 L445,320 L442,320 L454,320 M548,166 L556,166 L556,176 L556,184 L556,190 L556,201 L545,201 M380,339 L380,329 L384,329 L390,329 L390,321 L393,321 L393,330 M399,364 L399,356 L399,362 L402,362 L391,362 L391,365 L391,373 M406,291 L406,288 L398,288 L398,277 L404,277 L408,277 L398,277 M516,235 L520,235 L520,231 L529,231 L538,231 L538,238 L533,238 M482,159 L482,152 L482,155 L491,155 L495,155 L500,155 L510,155 M449,365 L449,357 L449,353 L445,353 L456,353 L456,358 L459,358 M393,312 L397,312 L397,322 L388,322 L388,315 L388,311 L388,308 M462,332 L462,339 L472,339 L472,328 L480,328 L480,324 L480,314 M435,300 L435,289 L423,289 L428,289 L428,295 L420,295 L424,295 M538,150 L548,150 L537,150 L532,150 L532,158 L529,158 L521,158 M433,373 L429,373 L429,380 L421,380 L421,370 L411,370 L411,367 M390,261 L390,265 L400,265 L400,275 L389,275 L389,270 L389,262 M370,313 L370,306 L374,306 L374,314 L381,314 L381,308 L391,308 M433,354 L423,354 L413,354 L421,354 L421,364 L412,364 L401,364 M415,346 L415,353 L415,349 L420,349 L424,349 L413,349 L408,349 M491,249 L488,249 L485,249 L493,249 L493,257 L493,250 L493,240 M517,162 L517,152 L517,148 L513,148 L503,148 L503,139 L512,139 M364,271 L370,271 L380,271 L376,271 L381,271 L391,271 L391,276 M441,285 L441,297 L441,286 L452,286 L452,293 L452,284 L462,284 M450,306 L450,298 L445,298 L451,298 L446,298 L446,304 L446,307 M373,328 L373,324 L373,313 L382,313 L391,313 L380,313 L380,309 M379,377 L368,377 L368,367 L361,367 L361,378 L365,378 L372,378 M468,230 L461,230 L461,225 L461,221 L453,221 L453,227 L453,220 M391,259 L391,267 L399,267 L409,267 L409,257 L400,257 L405,257 M354,311 L365,311 L359,311 L359,300 L369,300 L363,300 L363,296" fill="none" stroke="#40e0d0" stroke-width="1.6"/>
<path d="M374,283 L374,278 L380,278 L380,283 L377,283 L377,292 L367,292 M363,296 L372,296 L378,296 L378,302 L378,293 L378,299 L368,299 M369,281 L373,281 L373,273 L379,273 L379,270 L379,262 L385,262 M394,285 L385,285 L385,288 L393,288 L393,281 L393,274 L398,274 M357,273 L363,273 L363,267 L366,267 L360,267 L360,276 L360,272 M362,276 L367,276 L367,270 L367,265 L358,265 L358,275 L366,275 M364,301 L372,301 L380,301 L376,301 L376,298 L370,298 L377,298 M363,273 L360,273 L366,273 L370,273 L366,273 L366,280 L360,280 M368,302 L372,302 L362,302 L370,302 L365,302 L365,298 L371,298 M357,310 L357,307 L357,311 L364,311 L359,311 L359,305 L364,305 M411,253 L411,256 L405,256 L405,260 L411,260 L411,253 L415,253 M416,251 L416,257 L416,250 L416,255 L416,252 L411,252 L417,252 M378,262 L374,262 L365,262 L372,262 L372,265 L379,265 L379,269 M347,327 L352,327 L352,321 L352,325 L348,325 L348,335 L348,331 M372,281 L377,281 L377,271 L377,264 L384,264 L377,264 L381,264 M365,282 L375,282 L375,273 L365,273 L365,266 L369,266 L366,266 M370,306 L365,306 L365,310 L365,315 L365,319 L356,319 L356,312 M398,267 L398,260 L388,260 L397,260 L404,260 L400,260 L391,260 M382,257 L376,257 L376,260 L366,260 L366,269 L366,274 L373,274 M353,329 L359,329 L355,329 L355,321 L355,314 L355,322 L355,316 M374,272 L374,263 L374,256 L382,256 L385,256 L379,256 L379,266 M393,291 L388,291 L382,291 L374,291 L374,295 L374,289 L374,298 M374,265 L384,265 L384,273 L380,273 L380,268 L380,272 L380,280 M406,268 L406,264 L406,268 L400,268 L400,259 L405,259 L405,268 M369,314 L369,310 L372,310 L372,307 L372,299 L372,292 L372,287 M377,265 L377,273 L377,278 L368,278 L368,282 L376,282 L376,290 M384,271 L375,271 L369,271 L374,271 L366,271 L371,271 L365,271 M361,315 L361,307 L368,307 L368,303 L373,303 L373,308 L373,303 M348,316 L351,316 L357,316 L357,319 L348,319 L355,319 L352,319 M376,260 L369,260 L376,260 L376,264 L376,267 L385,267 L395,267 M361,320 L353,320 L347,320 L347,330 L347,322 L347,328 L351,328 M387,265 L387,273 L381,273 L385,273 L385,265 L379,265 L373,265 M352,312 L352,316 L362,316 L362,323 L356,323 L356,329 L348,329 M372,257 L380,257 L380,264 L387,264 L387,268 L387,277 L379,277 M391,262 L383,262 L388,262 L385,262 L378,262 L385,262 L381,262 M400,268 L393,268 L400,268 L400,259 L400,265 L400,272 L400,278 M354,311 L359,311 L359,303 L366,303 L366,312 L366,307 L357,307 M361,318 L361,322 L361,313 L366,313 L366,304 L366,298 L366,292 M400,273 L394,273 L390,273 L390,278 L390,270 L396,270 L396,275 M382,286 L382,281 L382,271 L382,280 L382,273 L390,273 L383,273 M355,317 L355,312 L362,312 L358,312 L358,307 L362,307 L366,307 M369,263 L369,257 L378,257 L371,257 L380,257 L383,257 L387,257 M397,278 L390,278 L400,278 L400,268 L400,262 L409,262 L402,262 M361,269 L361,262 L365,262 L365,272 L365,275 L361,275 L367,275 M371,256 L371,261 L375,261 L368,261 L365,261 L365,266 L360,266 M379,290 L379,297 L379,292 L379,286 L389,286 L389,293 L383,293 M360,319 L360,311 L366,311 L357,311 L364,311 L369,311 L360,311 M392,256 L386,256 L391,256 L400,256 L400,260 L393,260 L393,256 M390,263 L395,263 L385,263 L376,263 L376,258 L372,258 L382,258 M376,287 L368,287 L372,287 L372,292 L372,300 L372,295 L372,302 M368,301 L368,310 L360,310 L356,310 L364,310 L364,301 L373,301 M354,332 L354,329 L354,319 L354,324 L346,324 L356,324 L356,328 M380,297 L380,292 L380,299 L380,291 L380,285 L380,288 L387,288 M373,271 L377,271 L377,277 L377,270 L380,270 L380,266 L380,260 M364,300 L364,295 L364,286 L364,293 L370,293 L376,293 L372,293 M393,264 L393,256 L388,256 L396,256 L396,263 L396,255 L396,262 M414,252 L411,252 L416,252 L416,255 L411,255 L411,262 L411,253 M406,268 L406,259 L397,259 L397,267 L397,275 L388,275 L397,275 M372,289 L379,289 L371,289 L377,289 L380,289 L380,282 L380,291 M348,320 L356,320 L352,320 L358,320 L349,320 L349,330 L349,338 M392,268 L397,268 L406,268 L401,268 L401,258 L391,258 L401,258 M363,267 L369,267 L369,271 L366,271 L359,271 L359,266 L365,266 M396,256 L402,256 L396,256 L390,256 L385,256 L380,256 L384,256 M387,290 L387,281 L387,274 L387,280 L392,280 L392,271 L401,271 M350,335 L354,335 L354,326 L351,326 L351,332 L351,336 L348,336 M352,322 L347,322 L347,326 L347,321 L351,321 L354,321 L359,321 M416,253 L411,253 L411,262 L404,262 L407,262 L404,262 L409,262 M382,285 L382,290 L388,290 L385,290 L376,290 L376,285 L376,291 M362,271 L362,261 L368,261 L362,261 L367,261 L367,269 L367,278 M391,265 L397,265 L397,260 L389,260 L380,260 L373,260 L367,260 M351,325 L346,325 L350,325 L355,325 L362,325 L362,316 L353,316 M361,279 L361,271 L365,271 L369,271 L369,265 L363,265 L363,273 M416,251 L412,251 L412,259 L406,259 L411,259 L411,254 L411,263 M373,259 L373,267 L376,267 L383,267 L374,267 L374,272 L374,278 M357,316 L350,316 L357,316 L357,307 L357,312 L357,318 L357,315 M399,269 L399,279 L399,270 L399,275 L399,280 L389,280 L389,284 M355,328 L351,328 L351,325 L358,325 L354,325 L354,318 L360,318 M361,324 L351,324 L351,334 L351,325 L347,325 L347,321 L347,325 M355,321 L355,331 L355,321 L355,316 L363,316 L363,307 L366,307 M384,279 L375,279 L375,286 L375,290 L375,298 L368,298 L368,306 M348,322 L352,322 L352,327 L352,332 L358,332 L348,332 L348,325 M366,298 L366,293 L366,288 L366,297 L366,287 L373,287 L373,294 M382,284 L379,284 L379,281 L379,273 L374,273 L379,273 L373,273 M399,262 L399,256 L390,256 L382,256 L390,256 L393,256 L388,256 M367,259 L367,268 L373,268 L364,268 L368,268 L368,264 L368,260 M388,289 L388,295 L378,295 L378,298 L375,298 L366,298 L373,298 M388,287 L388,284 L388,287 L388,295 L388,291 L394,291 L394,284 M373,268 L373,275 L373,266 L378,266 L369,266 L377,266 L370,266 M346,319 L346,325 L350,325 L350,318 L359,318 L366,318 L366,314 M368,313 L368,305 L368,300 L368,290 L368,300 L374,300 L380,300" fill="none" stroke="#40e0d0" stroke-width="1.6"/>
<path d="M619,152 L606,152 L606,158 L606,152 L606,140 L606,135 L606,143 M591,153 L591,145 L600,145 L606,145 L596,145 L603,145 L603,139 M590,162 L584,162 L584,155 L584,143 L584,152 L595,152 L595,144 M612,136 L621,136 L609,136 L618,136 L618,147 L623,147 L623,139 M590,143 L602,143 L602,139 L602,149 L607,149 L598,149 L598,156 M587,148 L587,141 L587,152 L601,152 L601,145 L594,145 L594,152 M612,147 L612,137 L620,137 L625,137 L614,137 L604,137 L604,145 M587,147 L601,147 L601,137 L601,146 L601,142 L601,147 L601,155 M584,144 L584,150 L596,150 L596,141 L589,141 L597,141 L589,141 M619,140 L610,140 L602,140 L591,140 L600,140 L596,140 L606,140 M598,144 L598,152 L598,144 L604,144 L604,153 L604,146 L604,137 M586,134 L586,147 L586,140 L586,153 L593,153 L586,153 L586,139 M615,141 L615,153 L615,143 L615,155 L615,148 L615,153 L606,153 M604,158 L593,158 L584,158 L584,145 L584,155 L591,155 L597,155 M593,141 L593,151 L593,158 L593,147 L593,135 L598,135 L589,135 M601,135 L609,135 L614,135 L603,135 L589,135 L589,131 L589,145 M591,155 L604,155 L595,155 L601,155 L601,150 L601,143 L611,143 M594,162 L588,162 L588,155 L578,155 L589,155 L589,150 L589,139 M587,153 L587,139 L587,128 L587,136 L592,136 L592,130 L588,130 M612,153 L612,144 L612,140 L624,140 L619,140 L610,140 L624,140 M610,141 L615,141 L615,148 L615,155 L615,143 L602,143 L595,143 M592,160 L592,153 L585,153 L585,159 L577,159 L585,159 L596,159 M582,159 L577,159 L590,159 L580,159 L586,159 L586,152 L597,152 M600,161 L587,161 L597,161 L588,161 L588,155 L593,155 L580,155 M587,136 L598,136 L606,136 L598,136 L590,136 L590,143 L597,143" fill="none" stroke="#40e0d0" stroke-width="1.6"/>
<path d="M596,150 L610,150 L610,147 L625,147 L625,135.5 L621,135.5 M600,155 L612,155 L612,152" fill="none" stroke="#40e0d0" stroke-width="1.7"/>
<path d="M490,334 L479,334 L474,334 L482,334 L496,334 L491,334 L491,321 M532,317 L523,317 L530,317 L530,328 L522,328 L522,319 L522,325 M511,316 L511,309 L511,317 L501,317 L491,317 L480,317 L475,317 M500,335 L506,335 L506,323 L506,313 L495,313 L495,326 L495,332 M537,321 L524,321 L513,321 L500,321 L510,321 L518,321 L518,327 M485,338 L498,338 L493,338 L507,338 L512,338 L525,338 L529,338 M496,326 L496,320 L489,320 L497,320 L486,320 L486,328 L479,328 M516,321 L506,321 L506,315 L506,323 L506,331 L511,331 L521,331 M470,338 L470,331 L470,340 L475,340 L470,340 L470,332 L470,328 M512,311 L519,311 L506,311 L493,311 L493,316 L493,328 L489,328 M489,340 L480,340 L480,334 L480,324 L485,324 L472,324 L472,333 M526,342 L526,336 L531,336 L531,344 L531,335 L531,341 L522,341 M490,320 L476,320 L476,328 L476,320 L472,320 L481,320 L476,320 M515,336 L521,336 L521,332 L533,332 L526,332 L515,332 L515,319 M490,326 L496,326 L506,326 L506,337 L515,337 L515,331 L520,331 M534,340 L523,340 L528,340 L518,340 L530,340 L530,328 L530,323 M537,328 L537,335 L537,343 L537,336 L537,328 L537,318 L533,318 M536,328 L536,332 L522,332 L522,322 L522,328 L528,328 L524,328 M488,329 L477,329 L477,318 L472,318 L472,328 L472,321 L472,327 M492,330 L492,317 L492,328 L487,328 L493,328 L507,328 L507,333 M478,326 L482,326 L482,321 L482,315 L482,327 L486,327 L486,322 M478,339 L478,326 L488,326 L482,326 L474,326 L474,322 L474,329 M497,314 L486,314 L498,314 L486,314 L486,327 L486,320 L478,320 M535,330 L535,325 L531,325 L531,321 L531,334 L543,334 L532,334 M506,341 L506,336 L506,330 L496,330 L496,324 L507,324 L507,315 M523,322 L510,322 L510,317 L510,312 L515,312 L504,312 L512,312 M543,342 L543,333 L536,333 L536,324 L531,324 L537,324 L537,320 M516,322 L510,322 L521,322 L521,312 L521,317 L508,317 L498,317 M543,335 L535,335 L535,329 L535,336 L540,336 L540,327 L533,327 M526,325 L516,325 L527,325 L519,325 L505,325 L516,325 L516,330" fill="none" stroke="#40e0d0" stroke-width="1.6"/>
<path d="M554,362 L554,367 L554,371 L559,371 L559,366 L559,362 L563,362 M561,330 L556,330 L565,330 L565,323 L557,323 L557,326 L557,333 M563,358 L563,365 L559,365 L549,365 L549,368 L558,368 L550,368 M562,348 L557,348 L557,357 L557,361 L566,361 L566,366 L566,369 M559,345 L559,350 L559,347 L553,347 L553,343 L553,353 L562,353 M541,371 L545,371 L545,367 L545,361 L552,361 L547,361 L547,368 M561,323 L555,323 L565,323 L565,333 L555,333 L548,333 L548,337 M565,331 L565,326 L559,326 L552,326 L552,331 L561,331 L561,326 M543,355 L546,355 L546,347 L546,354 L554,354 L560,354 L551,354 M541,341 L547,341 L555,341 L559,341 L559,346 L559,356 L559,350 M540,359 L540,363 L547,363 L547,368 L552,368 L543,368 L543,363 M545,339 L551,339 L551,331 L543,331 L543,337 L543,347 L543,344 M546,367 L546,360 L546,352 L541,352 L546,352 L552,352 L552,347 M542,335 L542,340 L542,335 L542,341 L542,350 L542,355 L542,364 M551,334 L556,334 L547,334 L550,334 L555,334 L555,328 L555,336" fill="none" stroke="#40e0d0" stroke-width="1.6"/>
<path d="M513,413 L513,418 L513,411 L507,411 L507,402 L512,402 L508,402 M514,402 L514,397 L514,402 L514,412 L514,405 L514,414 L514,421 M517,410 L511,410 L507,410 L507,406 L507,415 L507,411 L507,407 M533,409 L523,409 L523,400 L533,400 L525,400 L531,400 L531,396 M523,398 L523,390 L523,394 L523,402 L523,411 L523,401 L532,401 M523,417 L523,414 L523,407 L531,407 L531,413 L531,407 L531,398 M541,420 L536,420 L526,420 L526,426 L536,426 L526,426 L516,426 M516,391 L512,391 L512,395 L512,398 L512,402 L512,412 L506,412 M523,407 L528,407 L528,398 L535,398 L535,393 L530,393 L530,397 M534,405 L542,405 L542,414 L542,422 L542,415 L547,415 L547,419 M547,392 L547,401 L547,394 L547,400 L539,400 L536,400 L536,392 M521,391 L526,391 L519,391 L519,394 L514,394 L514,389 L514,396 M531,399 L531,407 L535,407 L532,407 L532,417 L528,417 L537,417 M542,389 L536,389 L528,389 L528,396 L528,391 L522,391 L522,399 M535,409 L535,418 L535,423 L542,423 L536,423 L542,423 L536,423 M543,421 L538,421 L544,421 L541,421 L541,425 L531,425 L526,425 M532,389 L536,389 L536,399 L541,399 L536,399 L536,407 L536,416 M541,401 L541,406 L541,411 L541,405 L541,399 L546,399 L538,399 M541,407 L535,407 L529,407 L529,412 L529,404 L529,412 L529,407 M518,389 L527,389 L527,392 L533,392 L533,398 L523,398 L523,389 M528,410 L520,410 L525,410 L525,405 L525,411 L525,418 L525,425 M536,413 L536,417 L536,420 L530,420 L525,420 L525,416 L525,425 M541,412 L541,417 L541,422 L541,416 L545,416 L545,421 L537,421 M543,422 L539,422 L542,422 L532,422 L539,422 L529,422 L529,417 M511,410 L511,404 L518,404 L512,404 L512,413 L512,410 L515,410 M531,394 L531,401 L523,401 L523,411 L526,411 L529,411 L529,416 M547,405 L538,405 L538,396 L541,396 L536,396 L536,401 L539,401 M545,418 L545,411 L545,406 L537,406 L542,406 L536,406 L527,406" fill="none" stroke="#40e0d0" stroke-width="1.6"/>
<path d="M486,419 L493,419 L493,414 L493,421 L493,425 L493,420 L484,420 M496,398 L496,405 L487,405 L487,400 L496,400 L489,400 L496,400 M476,424 L476,417 L476,408 L476,402 L467,402 L463,402 L463,396 M468,399 L468,405 L468,413 L468,407 L468,415 L472,415 L472,423 M489,398 L495,398 L499,398 L499,402 L495,402 L495,411 L495,402 M485,414 L494,414 L494,424 L489,424 L486,424 L476,424 L476,415 M497,421 L493,421 L493,412 L498,412 L498,404 L498,409 L492,409 M493,424 L493,418 L498,418 L498,424 L492,424 L488,424 L496,424 M479,421 L479,418 L472,418 L477,418 L472,418 L479,418 L479,414 M487,404 L487,397 L487,405 L495,405 L495,409 L495,400 L488,400" fill="none" stroke="#40e0d0" stroke-width="1.6"/>
<path d="M543,106 L565,106 L583,102 L586,121 L588,134 L594,142 L604,148 L594,157 L586,152 L577,159 L569,171 L557,180 L553,189 L544,199 L550,213 L559,225 L562,234 L557,240 L556,255 L550,264 L538,274 L527,285 L511,297 L490,306 L476,311 L458,318 L453,329 L462,345 L466,380 L460,403 L440,401 L434,389 L417,380 L389,381 L367,383 L359,378 L352,374 L349,362 L347,346 L353,323 L369,310 L380,291 L403,285 L403,258 L416,260 L421,234 L430,222 L442,214 L456,202 L474,194 L478,182 L476,160 L484,145 L506,132 L523,118 L536,113Z" fill="#40e0d0"/>
<path d="M558,179 L558,187 L558,194 L558,188 L558,183 M373,302 L373,306 L378,306 L369,306 L374,306 M347,345 L347,352 L347,347 L347,339 L343,339 M458,403 L463,403 L460,403 L460,395 L468,395 M555,220 L555,224 L555,229 L548,229 L544,229 M420,240 L420,236 L427,236 L435,236 L440,236 M426,227 L431,227 L423,227 L418,227 L418,234 M434,389 L429,389 L429,396 L429,404 L429,395 M437,395 L443,395 L449,395 L449,404 L449,409 M560,236 L557,236 L557,245 L557,248 L557,244 M546,106 L553,106 L553,100 L560,100 L560,94 M468,314 L468,306 L472,306 L479,306 L483,306 M367,383 L367,376 L367,368 L367,363 L367,359 M587,127 L590,127 L584,127 L576,127 L576,131 M420,239 L420,234 L420,226 L424,226 L419,226 M562,233 L562,226 L568,226 L574,226 L574,219 M562,234 L562,225 L555,225 L548,225 L548,232 M583,102 L578,102 L583,102 L583,111 L575,111 M541,108 L537,108 L537,115 L528,115 L528,110 M403,276 L403,269 L403,276 L403,269 L407,269 M475,190 L472,190 L472,193 L477,193 L477,186 M349,363 L340,363 L336,363 L336,367 L336,375 M575,104 L575,108 L575,102 L580,102 L580,97 M505,299 L501,299 L501,291 L508,291 L511,291 M441,401 L437,401 L437,393 L437,387 L437,391 M592,156 L587,156 L587,163 L595,163 L602,163 M506,132 L500,132 L495,132 L495,135 L502,135 M471,313 L471,320 L471,316 L475,316 L475,322 M566,173 L566,169 L559,169 L559,166 L555,166 M432,221 L439,221 L436,221 L436,227 L428,227 M585,153 L585,145 L585,152 L578,152 L587,152 M487,143 L487,139 L487,130 L487,133 L487,137 M466,381 L466,388 L466,381 L462,381 L462,377 M399,381 L399,389 L399,397 L394,397 L389,397 M493,305 L493,311 L501,311 L510,311 L503,311 M453,402 L444,402 L444,410 L444,414 L437,414 M547,196 L547,188 L540,188 L540,192 L540,188 M578,103 L578,98 L578,94 L578,101 L578,108 M470,196 L461,196 L461,192 L464,192 L464,198 M561,235 L561,231 L553,231 L553,224 L558,224 M418,251 L412,251 L412,246 L412,239 L420,239 M551,214 L556,214 L556,221 L556,213 L549,213 M519,122 L519,130 L526,130 L519,130 L511,130 M477,172 L477,176 L477,183 L473,183 L473,179 M403,260 L403,269 L403,272 L398,272 L398,279 M408,259 L408,256 L417,256 L410,256 L410,250 M371,383 L371,389 L378,389 L378,393 L378,385 M403,284 L403,277 L397,277 L394,277 L394,269 M587,153 L592,153 L588,153 L588,158 L588,163 M460,402 L466,402 L462,402 L454,402 L448,402 M440,216 L434,216 L441,216 L449,216 L442,216 M548,208 L542,208 L550,208 L543,208 L547,208 M483,146 L483,140 L488,140 L488,148 L488,156 M478,178 L478,175 L478,172 L478,164 L478,160 M460,341 L468,341 L468,349 L468,355 L463,355 M473,312 L473,319 L473,324 L473,327 L473,334 M466,379 L466,374 L458,374 L453,374 L453,370 M457,321 L457,313 L462,313 L462,307 L469,307 M540,109 L540,105 L540,112 L546,112 L546,119 M456,321 L456,317 L462,317 L458,317 L454,317 M568,105 L568,108 L560,108 L560,104 L560,110 M599,145 L599,141 L592,141 L592,137 L592,145 M393,288 L388,288 L396,288 L389,288 L389,293 M538,111 L538,103 L531,103 L538,103 L538,111 M442,401 L434,401 L426,401 L434,401 L434,392 M446,402 L446,395 L437,395 L437,390 L437,398 M400,381 L400,378 L408,378 L402,378 L402,375 M403,267 L403,271 L403,278 L403,283 L403,274 M558,224 L563,224 L570,224 L570,230 L570,238 M351,369 L351,377 L345,377 L345,381 L337,381 M394,381 L394,389 L391,389 L391,392 L391,399 M348,357 L351,357 L355,357 L347,357 L347,364 M551,192 L544,192 L540,192 L540,197 L540,201 M556,183 L556,178 L556,185 L560,185 L560,189 M489,306 L489,298 L480,298 L487,298 L487,292 M486,144 L482,144 L482,135 L482,127 L490,127 M490,306 L490,298 L482,298 L489,298 L496,298 M357,377 L366,377 L359,377 L366,377 L374,377 M523,288 L523,284 L523,279 L523,271 L523,264 M601,150 L595,150 L590,150 L586,150 L586,143 M586,124 L586,132 L586,126 L591,126 L599,126 M429,223 L421,223 L421,218 L421,224 L414,224 M417,254 L417,249 L410,249 L410,254 L410,248 M465,315 L458,315 L458,319 L449,319 L445,319 M370,308 L365,308 L365,302 L365,306 L365,310 M366,313 L374,313 L378,313 L371,313 L364,313 M477,168 L477,159 L477,154 L471,154 L478,154 M511,128 L511,122 L511,131 L511,125 L508,125 M458,339 L458,344 L458,350 L463,350 L454,350 M536,113 L528,113 L533,113 L529,113 L524,113 M513,126 L516,126 L524,126 L524,118 L520,118 M363,380 L363,375 L363,381 L372,381 L368,381 M478,182 L478,175 L478,171 L478,166 L471,166 M447,402 L443,402 L443,405 L443,397 L443,403 M464,316 L464,311 L464,308 L464,312 L464,308 M557,246 L563,246 L563,239 L563,231 L568,231 M476,189 L484,189 L484,193 L484,198 L484,194 M560,177 L560,172 L560,180 L555,180 L555,188 M587,127 L587,134 L596,134 L605,134 L612,134 M425,229 L425,220 L425,215 L425,210 L419,210 M417,257 L425,257 L421,257 L425,257 L425,251 M454,402 L454,396 L450,396 L450,387 L450,383 M447,210 L443,210 L440,210 L437,210 L437,203 M584,111 L578,111 L578,106 L586,106 L586,114 M556,256 L563,256 L554,256 L554,250 L559,250 M535,277 L535,270 L535,273 L532,273 L532,267 M463,350 L463,345 L463,338 L469,338 L469,346 M555,183 L560,183 L560,188 L564,188 L558,188 M587,127 L587,133 L582,133 L574,133 L579,133 M497,303 L505,303 L505,308 L505,300 L505,303 M477,167 L477,171 L477,175 L469,175 L469,166 M531,115 L528,115 L534,115 L534,124 L538,124 M403,269 L403,277 L396,277 L390,277 L386,277 M458,403 L458,411 L458,414 L454,414 L454,419 M556,250 L556,255 L556,250 L548,250 L548,258 M511,128 L519,128 L519,132 L519,139 L519,135 M423,383 L423,388 L430,388 L436,388 L436,384 M403,285 L403,279 L395,279 L395,273 L391,273 M570,105 L575,105 L584,105 L584,100 L584,91 M553,217 L553,225 L553,229 L553,221 L550,221" fill="none" stroke="#40e0d0" stroke-width="1.6"/>
<path d="M454,350 L470,345 L495,352 L510,345 L525,350 L534,362 L534,385 L525,398 L505,400 L480,400 L462,398 L454,380Z" fill="#40e0d0"/>
<path d="M459,357 L459,353 L463,353 L470,353 L466,353 L474,353 M468,375 L468,368 L472,368 L472,363 L467,363 L467,370 M476,383 L476,376 L486,376 L481,376 L477,376 L477,373 M511,389 L507,389 L507,381 L502,381 L496,381 L496,386 M482,369 L482,379 L491,379 L491,388 L491,392 L488,392 M515,368 L523,368 L523,377 L519,377 L510,377 L510,371 M461,383 L461,387 L471,387 L466,387 L460,387 L460,380 M495,389 L495,382 L504,382 L504,378 L504,368 L509,368 M513,394 L519,394 L523,394 L514,394 L514,387 L514,382 M472,378 L472,386 L472,381 L472,385 L472,393 L469,393 M506,384 L502,384 L502,375 L496,375 L496,382 L487,382 M477,392 L480,392 L474,392 L483,392 L483,384 L478,384 M483,382 L483,386 L480,386 L471,386 L471,377 L471,367 M478,360 L481,360 L476,360 L481,360 L481,368 L481,377" fill="none" stroke="#000" stroke-width="1.4"/>
<path d="M442,345 L442,351 L446,351 L446,358 L446,353 L452,353 M462,367 L462,360 L455,360 L450,360 L450,364 L457,364 M452,360 L458,360 L454,360 L454,367 L454,363 L454,369 M456,384 L456,388 L456,391 L456,384 L456,389 L463,389 M440,343 L447,343 L441,343 L447,343 L442,343 L442,340 M467,378 L467,383 L461,383 L457,383 L457,377 L457,381" fill="none" stroke="#000" stroke-width="1.3"/>
<path d="M556,330 L563,320 L595,319 L618,317 L641,317 L644,308 L655,307 L663,304 L670,291 L680,290 L700,288 L724,284 L740,282 L754,280 L768,288 L772,300 L776,310 L788,320 L794,330 L788,340 L780,344 L769,348 L752,352 L740,362 L720,368 L700,370 L660,364 L620,362 L590,366 L562,370 L555,366Z" fill="#40e0d0"/>
<path d="M555,354 L558,354 L558,350 L549,350 L549,347 M631,317 L637,317 L630,317 L630,311 L637,311 M564,320 L564,329 L572,329 L572,338 L576,338 M556,331 L556,338 L556,342 L556,335 L553,335 M650,307 L645,307 L654,307 L654,313 L658,313 M620,317 L620,325 L620,318 L620,313 L617,313 M717,368 L717,360 L721,360 L721,353 L729,353 M734,283 L734,277 L726,277 L731,277 L740,277 M581,367 L577,367 L577,370 L577,366 L577,369 M670,292 L670,285 L670,293 L674,293 L674,285 M555,353 L549,353 L549,349 L549,354 L556,354 M719,285 L723,285 L723,290 L723,294 L723,300 M744,359 L744,367 L744,360 L735,360 L729,360 M558,368 L558,376 L563,376 L556,376 L559,376 M698,370 L698,365 L704,365 L700,365 L700,373 M562,370 L568,370 L572,370 L580,370 L584,370 M685,368 L694,368 L694,374 L694,382 L694,376 M579,320 L579,325 L587,325 L587,332 L591,332 M586,367 L590,367 L590,372 L599,372 L603,372 M749,354 L749,346 L745,346 L745,351 L745,355 M714,286 L714,281 L706,281 L706,289 L706,280 M654,307 L650,307 L642,307 L636,307 L636,316 M604,364 L600,364 L600,359 L594,359 L601,359 M752,352 L747,352 L747,346 L752,346 L752,338 M555,366 L555,361 L555,368 L559,368 L559,360 M647,363 L651,363 L651,355 L651,362 L659,362 M555,352 L548,352 L548,358 L539,358 L539,365 M761,350 L761,344 L753,344 L753,338 L753,333 M690,369 L682,369 L675,369 L675,376 L682,376 M739,362 L732,362 L727,362 L727,371 L733,371 M684,290 L679,290 L679,294 L676,294 L676,301 M555,355 L559,355 L554,355 L559,355 L559,358 M715,285 L709,285 L709,289 L703,289 L696,289 M643,363 L643,368 L643,364 L650,364 L650,371 M555,356 L555,351 L555,355 L548,355 L555,355 M718,368 L718,371 L718,364 L718,373 L722,373 M633,317 L633,312 L633,319 L633,323 L633,332 M618,362 L626,362 L626,368 L620,368 L626,368 M708,369 L708,363 L708,370 L708,365 L708,369 M651,307 L642,307 L645,307 L640,307 L634,307 M579,319 L576,319 L580,319 L580,311 L580,304 M780,344 L780,351 L780,358 L780,363 L780,354 M569,320 L565,320 L565,316 L565,324 L565,331 M561,370 L569,370 L569,364 L569,360 L565,360 M791,335 L791,338 L799,338 L805,338 L801,338 M788,340 L779,340 L779,336 L779,343 L771,343 M768,288 L768,281 L776,281 L776,285 L772,285 M712,369 L712,378 L712,383 L712,390 L712,397 M566,369 L562,369 L558,369 L558,374 L567,374 M712,286 L703,286 L703,278 L703,282 L703,278 M750,281 L757,281 L764,281 L764,273 L764,267 M752,352 L744,352 L740,352 L740,355 L736,355 M707,287 L707,283 L707,287 L702,287 L702,294 M747,357 L753,357 L756,357 L756,352 L756,358 M774,346 L779,346 L779,339 L779,344 L772,344 M773,302 L769,302 L769,305 L769,300 L769,308 M705,370 L714,370 L714,378 L714,383 L719,383 M782,343 L782,352 L782,357 L774,357 L780,357 M601,318 L593,318 L586,318 L594,318 L594,310 M556,332 L556,326 L556,322 L556,331 L562,331 M740,282 L740,291 L740,285 L740,278 L740,273 M772,301 L764,301 L764,307 L771,307 L771,314 M765,286 L770,286 L777,286 L777,294 L783,294 M559,368 L559,376 L567,376 L567,371 L564,371 M555,358 L546,358 L546,362 L546,365 L549,365 M789,338 L789,329 L783,329 L777,329 L785,329 M764,286 L764,289 L764,284 L771,284 L780,284 M606,318 L600,318 L594,318 L590,318 L585,318 M578,368 L573,368 L573,376 L573,371 L568,371 M644,309 L644,302 L639,302 L636,302 L636,309 M772,347 L765,347 L756,347 L756,353 L756,359 M736,282 L743,282 L736,282 L736,273 L736,276 M724,284 L728,284 L723,284 L728,284 L728,290 M741,282 L733,282 L733,288 L738,288 L730,288 M654,307 L654,314 L654,309 L658,309 L658,302 M572,320 L579,320 L579,328 L579,335 L572,335 M778,345 L771,345 L762,345 L768,345 L768,341 M635,363 L635,355 L635,347 L635,353 L627,353 M720,368 L720,363 L720,359 L720,365 L711,365 M660,305 L653,305 L660,305 L660,300 L660,294" fill="none" stroke="#40e0d0" stroke-width="1.6"/>
<g stroke="#000" stroke-width="4.1" stroke-linecap="butt"><line x1="210.5" y1="23" x2="210.5" y2="667" /><line x1="170" y1="625" x2="912.2" y2="625" /><line x1="170" y1="25.1" x2="253" y2="25.1" /><line x1="189" y1="68.0" x2="233" y2="68.0" /><line x1="170" y1="110.8" x2="253" y2="110.8" /><line x1="189" y1="153.7" x2="233" y2="153.7" /><line x1="170" y1="196.5" x2="253" y2="196.5" /><line x1="189" y1="239.3" x2="233" y2="239.3" /><line x1="170" y1="282.2" x2="253" y2="282.2" /><line x1="189" y1="325.1" x2="233" y2="325.1" /><line x1="170" y1="367.9" x2="253" y2="367.9" /><line x1="189" y1="410.8" x2="233" y2="410.8" /><line x1="170" y1="453.6" x2="253" y2="453.6" /><line x1="189" y1="496.5" x2="233" y2="496.5" /><line x1="170" y1="539.3" x2="253" y2="539.3" /><line x1="189" y1="582.2" x2="233" y2="582.2" /><line x1="210.4" y1="583" x2="210.4" y2="667" /><line x1="260.4" y1="603.5" x2="260.4" y2="647.5" /><line x1="310.4" y1="583" x2="310.4" y2="667" /><line x1="360.4" y1="603.5" x2="360.4" y2="647.5" /><line x1="410.4" y1="583" x2="410.4" y2="667" /><line x1="460.4" y1="603.5" x2="460.4" y2="647.5" /><line x1="510.4" y1="583" x2="510.4" y2="667" /><line x1="560.4" y1="603.5" x2="560.4" y2="647.5" /><line x1="610.4" y1="583" x2="610.4" y2="667" /><line x1="660.4" y1="603.5" x2="660.4" y2="647.5" /><line x1="710.4" y1="583" x2="710.4" y2="667" /><line x1="760.4" y1="603.5" x2="760.4" y2="647.5" /><line x1="810.4" y1="583" x2="810.4" y2="667" /><line x1="860.4" y1="603.5" x2="860.4" y2="647.5" /><line x1="910.4" y1="583" x2="910.4" y2="667" /></g>
<g font-family="Liberation Serif" font-size="71" fill="#000"><text x="156.7" y="48.6" text-anchor="end">3</text><text x="155.8" y="135.8" text-anchor="end">2</text><text x="156.3" y="220.0" text-anchor="end">1</text><text x="155.3" y="305.7" text-anchor="end">0</text><text x="156.4" y="391.4" text-anchor="end">-1</text><text x="155.3" y="477.1" text-anchor="end">-2</text><text x="155.4" y="562.8" text-anchor="end">-3</text><text x="153.0" y="647.5" text-anchor="end">-4</text><text x="213.8" y="749.5" text-anchor="middle">-3</text><text x="313.4" y="749.5" text-anchor="middle">-2</text><text x="412.6" y="749.5" text-anchor="middle">-1</text><text x="513.0" y="749.5" text-anchor="middle">0</text><text x="617.8" y="749.5" text-anchor="middle">1</text><text x="710.8" y="749.5" text-anchor="middle">2</text><text x="812.3" y="749.5" text-anchor="middle">3</text><text x="910.1" y="749.5" text-anchor="middle">4</text><text x="288" y="851" textLength="543" lengthAdjust="spacingAndGlyphs">Eigenvector 1 (nm)</text><text transform="translate(54,597) rotate(-90)" textLength="546" lengthAdjust="spacingAndGlyphs">Eigenvector 2 (nm)</text></g>
<g font-family="Liberation Serif" font-size="41.5">
<text x="727" y="50.4" fill="#000">BCL2</text>
<text x="727" y="100.5" fill="#ff0000">BCL2-Daturilinol</text>
<text x="727" y="149.8" fill="#40e0d0">BCL2-Withametelin B</text></g>
</svg></body></html>
